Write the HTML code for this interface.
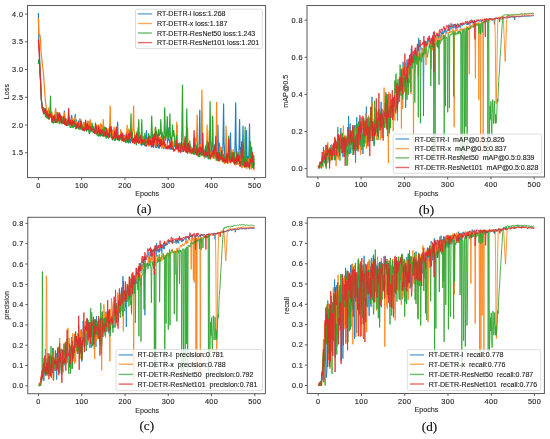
<!DOCTYPE html>
<html><head><meta charset="utf-8"><style>
html,body{margin:0;padding:0;background:#fff;}
body{width:550px;height:439px;overflow:hidden;}
svg{display:block;will-change:transform;}
.tk{font-family:"Liberation Sans", sans-serif;font-size:7.3px;letter-spacing:0.35px;fill:#2a2a2a;stroke:#2a2a2a;stroke-width:0.15px;}
.lb{font-family:"Liberation Sans", sans-serif;font-size:7.2px;fill:#2a2a2a;stroke:#2a2a2a;stroke-width:0.12px;}
.lg{font-family:"Liberation Sans", sans-serif;font-size:7.05px;fill:#222;stroke:#222;stroke-width:0.12px;}
.cap{font-family:"Liberation Serif", serif;font-size:13.2px;fill:#111;stroke:#111;stroke-width:0.15px;}
</style></head><body>
<svg width="550" height="439" viewBox="0 0 550 439">
<rect width="550" height="439" fill="#fff"/>
<line x1="38.40" y1="177.6" x2="38.40" y2="180.00" stroke="#5a5a5a" stroke-width="1"/>
<text x="38.40" y="187.60" text-anchor="middle" class="tk">0</text>
<line x1="81.66" y1="177.6" x2="81.66" y2="180.00" stroke="#5a5a5a" stroke-width="1"/>
<text x="81.66" y="187.60" text-anchor="middle" class="tk">100</text>
<line x1="124.92" y1="177.6" x2="124.92" y2="180.00" stroke="#5a5a5a" stroke-width="1"/>
<text x="124.92" y="187.60" text-anchor="middle" class="tk">200</text>
<line x1="168.18" y1="177.6" x2="168.18" y2="180.00" stroke="#5a5a5a" stroke-width="1"/>
<text x="168.18" y="187.60" text-anchor="middle" class="tk">300</text>
<line x1="211.44" y1="177.6" x2="211.44" y2="180.00" stroke="#5a5a5a" stroke-width="1"/>
<text x="211.44" y="187.60" text-anchor="middle" class="tk">400</text>
<line x1="254.70" y1="177.6" x2="254.70" y2="180.00" stroke="#5a5a5a" stroke-width="1"/>
<text x="254.70" y="187.60" text-anchor="middle" class="tk">500</text>
<line x1="25.10" y1="152.74" x2="27.5" y2="152.74" stroke="#5a5a5a" stroke-width="1"/>
<text x="23.30" y="155.24" text-anchor="end" class="tk">1.5</text>
<line x1="25.10" y1="125.00" x2="27.5" y2="125.00" stroke="#5a5a5a" stroke-width="1"/>
<text x="23.30" y="127.50" text-anchor="end" class="tk">2.0</text>
<line x1="25.10" y1="97.26" x2="27.5" y2="97.26" stroke="#5a5a5a" stroke-width="1"/>
<text x="23.30" y="99.76" text-anchor="end" class="tk">2.5</text>
<line x1="25.10" y1="69.52" x2="27.5" y2="69.52" stroke="#5a5a5a" stroke-width="1"/>
<text x="23.30" y="72.02" text-anchor="end" class="tk">3.0</text>
<line x1="25.10" y1="41.78" x2="27.5" y2="41.78" stroke="#5a5a5a" stroke-width="1"/>
<text x="23.30" y="44.28" text-anchor="end" class="tk">3.5</text>
<line x1="25.10" y1="14.04" x2="27.5" y2="14.04" stroke="#5a5a5a" stroke-width="1"/>
<text x="23.30" y="16.54" text-anchor="end" class="tk">4.0</text>
<text x="147.15" y="196.40" text-anchor="middle" class="lb">Epochs</text>
<text x="8.90" y="91.55" text-anchor="middle" class="lb" transform="rotate(-90 8.90 91.55)">Loss</text>
<polyline points="38.4,12.9 38.8,41.8 39.3,47.3 39.7,61.2 40.1,72.3 40.6,80.6 41.0,91.7 41.4,100.0 41.9,103.9 42.3,106.7 42.7,109.6 43.2,109.2 43.6,107.6 44.0,112.9 44.5,112.9 44.9,108.9 45.3,114.4 45.8,110.2 46.2,114.7 46.6,112.9 47.1,116.9 47.5,115.2 47.9,117.9 48.3,118.7 48.8,114.0 49.2,117.3 49.6,117.8 50.1,114.7 50.5,114.5 50.9,117.5 51.4,114.6 51.8,115.2 52.2,117.2 52.7,120.4 53.1,118.7 53.5,117.0 54.0,121.0 54.4,121.0 54.8,119.7 55.3,115.5 55.7,116.2 56.1,112.1 56.6,115.6 57.0,116.3 57.4,119.0 57.9,115.2 58.3,116.4 58.7,118.5 59.2,119.5 59.6,119.4 60.0,116.9 60.5,114.8 60.9,121.1 61.3,122.7 61.8,122.9 62.2,122.7 62.6,119.9 63.1,122.3 63.5,123.5 63.9,118.9 64.4,111.1 64.8,120.6 65.2,120.3 65.7,124.8 66.1,124.6 66.5,123.7 67.0,120.3 67.4,122.6 67.8,125.0 68.2,123.9 68.7,124.3 69.1,121.0 69.5,121.9 70.0,120.9 70.4,124.8 70.8,124.7 71.3,117.4 71.7,115.4 72.1,120.8 72.6,122.7 73.0,121.8 73.4,123.6 73.9,126.5 74.3,122.7 74.7,125.8 75.2,114.4 75.6,119.4 76.0,122.9 76.5,120.2 76.9,127.2 77.3,125.4 77.8,122.8 78.2,125.4 78.6,121.1 79.1,123.4 79.5,119.5 79.9,126.2 80.4,128.2 80.8,119.5 81.2,124.0 81.7,124.6 82.1,128.1 82.5,130.0 83.0,128.3 83.4,122.3 83.8,127.2 84.3,128.0 84.7,128.5 85.1,129.6 85.6,129.5 86.0,129.1 86.4,124.9 86.9,129.0 87.3,124.6 87.7,128.2 88.1,129.6 88.6,126.6 89.0,121.2 89.4,124.7 89.9,131.8 90.3,130.9 90.7,130.5 91.2,131.0 91.6,127.0 92.0,129.3 92.5,131.0 92.9,129.0 93.3,132.2 93.8,126.6 94.2,132.3 94.6,129.2 95.1,132.0 95.5,132.8 95.9,132.8 96.4,126.0 96.8,130.0 97.2,127.3 97.7,130.2 98.1,125.0 98.5,128.9 99.0,128.5 99.4,130.6 99.8,130.9 100.3,131.5 100.7,134.5 101.1,135.7 101.6,124.9 102.0,130.2 102.4,135.8 102.9,134.8 103.3,136.0 103.7,135.3 104.2,130.2 104.6,132.4 105.0,130.7 105.5,127.7 105.9,131.9 106.3,130.9 106.8,131.5 107.2,130.0 107.6,135.5 108.0,135.2 108.5,135.5 108.9,134.5 109.3,133.2 109.8,133.4 110.2,134.6 110.6,135.2 111.1,134.2 111.5,128.0 111.9,134.3 112.4,136.8 112.8,135.7 113.2,129.8 113.7,134.8 114.1,136.7 114.5,131.6 115.0,133.9 115.4,136.1 115.8,138.0 116.3,134.2 116.7,134.6 117.1,132.4 117.6,122.2 118.0,134.5 118.4,140.3 118.9,137.1 119.3,139.1 119.7,136.2 120.2,135.1 120.6,137.2 121.0,135.2 121.5,132.2 121.9,138.7 122.3,139.9 122.8,139.4 123.2,138.5 123.6,135.9 124.1,135.0 124.5,138.1 124.9,140.1 125.4,140.8 125.8,142.1 126.2,139.8 126.7,139.5 127.1,136.4 127.5,141.0 127.9,139.6 128.4,141.4 128.8,142.9 129.2,139.7 129.7,135.5 130.1,141.5 130.5,142.9 131.0,138.5 131.4,141.0 131.8,136.5 132.3,140.2 132.7,138.4 133.1,140.1 133.6,138.5 134.0,141.9 134.4,139.6 134.9,140.3 135.3,140.1 135.7,142.7 136.2,138.9 136.6,137.6 137.0,135.9 137.5,138.6 137.9,142.2 138.3,142.5 138.8,139.3 139.2,142.4 139.6,142.0 140.1,139.3 140.5,140.5 140.9,144.4 141.4,145.3 141.8,144.7 142.2,143.8 142.7,144.2 143.1,141.0 143.5,142.4 144.0,137.4 144.4,144.3 144.8,145.6 145.3,142.6 145.7,143.6 146.1,139.5 146.5,130.5 147.0,141.3 147.4,143.4 147.8,140.8 148.3,142.8 148.7,145.2 149.1,136.7 149.6,143.7 150.0,140.5 150.4,144.8 150.9,143.9 151.3,146.9 151.7,146.1 152.2,141.6 152.6,145.6 153.0,146.8 153.5,146.9 153.9,139.2 154.3,134.1 154.8,137.1 155.2,145.2 155.6,147.3 156.1,143.4 156.5,147.1 156.9,147.4 157.4,146.3 157.8,139.9 158.2,143.4 158.7,147.6 159.1,148.4 159.5,147.3 160.0,144.8 160.4,138.2 160.8,146.1 161.3,138.5 161.7,143.5 162.1,147.2 162.6,145.2 163.0,142.5 163.4,147.6 163.9,148.7 164.3,145.4 164.7,144.0 165.2,144.4 165.6,148.6 166.0,147.5 166.4,148.6 166.9,148.2 167.3,146.7 167.7,140.4 168.2,127.8 168.6,137.8 169.0,140.2 169.5,140.2 169.9,148.8 170.3,146.3 170.8,149.1 171.2,143.3 171.6,148.9 172.1,144.3 172.5,144.6 172.9,145.3 173.4,148.9 173.8,146.1 174.2,141.7 174.7,145.5 175.1,146.5 175.5,145.8 176.0,149.0 176.4,139.9 176.8,125.0 177.3,142.8 177.7,147.4 178.1,146.9 178.6,148.3 179.0,147.7 179.4,145.7 179.9,147.9 180.3,149.0 180.7,144.4 181.2,150.5 181.6,151.1 182.0,151.7 182.5,147.5 182.9,148.8 183.3,150.9 183.8,143.1 184.2,147.9 184.6,149.1 185.1,150.0 185.5,148.3 185.9,146.5 186.3,145.1 186.8,147.4 187.2,146.2 187.6,151.7 188.1,149.1 188.5,151.5 188.9,151.0 189.4,147.1 189.8,144.7 190.2,146.2 190.7,148.6 191.1,150.3 191.5,152.0 192.0,152.0 192.4,153.1 192.8,153.5 193.3,148.6 193.7,143.9 194.1,141.9 194.6,152.9 195.0,154.0 195.4,147.4 195.9,148.2 196.3,149.7 196.7,150.1 197.2,146.2 197.6,151.2 198.0,152.0 198.5,152.6 198.9,154.1 199.3,135.6 199.8,110.0 200.2,140.5 200.6,154.6 201.1,154.8 201.5,153.5 201.9,146.0 202.4,149.4 202.8,153.3 203.2,154.7 203.7,152.3 204.1,150.0 204.5,153.6 205.0,152.8 205.4,153.2 205.8,149.9 206.2,156.1 206.7,157.0 207.1,156.8 207.5,150.5 208.0,150.6 208.4,157.0 208.8,155.0 209.3,158.0 209.7,156.0 210.1,154.9 210.6,157.8 211.0,154.0 211.4,150.7 211.9,143.1 212.3,153.2 212.7,153.3 213.2,157.4 213.6,154.9 214.0,150.4 214.5,144.8 214.9,155.4 215.3,153.1 215.8,153.7 216.2,157.6 216.6,150.4 217.1,157.4 217.5,144.6 217.9,125.0 218.4,148.4 218.8,159.3 219.2,143.1 219.7,150.7 220.1,153.9 220.5,154.0 221.0,152.8 221.4,157.8 221.8,150.8 222.3,155.0 222.7,155.7 223.1,135.7 223.6,103.9 224.0,141.7 224.4,148.3 224.9,158.3 225.3,157.0 225.7,157.7 226.1,159.3 226.6,154.1 227.0,156.4 227.4,158.2 227.9,155.9 228.3,160.5 228.7,157.5 229.2,158.1 229.6,155.1 230.0,149.4 230.5,132.8 230.9,152.6 231.3,159.3 231.8,155.2 232.2,160.7 232.6,159.8 233.1,158.9 233.5,161.5 233.9,162.2 234.4,155.6 234.8,158.8 235.2,136.5 235.7,102.8 236.1,142.9 236.5,152.9 237.0,159.1 237.4,158.4 237.8,161.5 238.3,155.0 238.7,161.9 239.1,144.5 239.6,119.5 240.0,149.3 240.4,160.6 240.9,147.6 241.3,152.9 241.7,160.7 242.2,163.2 242.6,148.0 243.0,126.1 243.5,152.2 243.9,153.5 244.3,154.6 244.8,154.7 245.2,152.5 245.6,162.6 246.0,150.5 246.5,130.5 246.9,154.3 247.3,162.8 247.8,156.7 248.2,158.4 248.6,162.0 249.1,147.9 249.5,123.9 249.9,152.5 250.4,158.4 250.8,162.0 251.2,158.6 251.7,147.2 252.1,161.0 252.5,167.1 253.0,165.0 253.4,162.8 253.8,165.9 254.3,166.6" stroke="#1f7fc0" stroke-width="1.2" fill="none" stroke-linejoin="round"/>
<polyline points="38.4,17.9 38.8,34.6 39.3,34.0 39.7,36.2 40.1,35.1 40.6,41.8 41.0,51.2 41.4,55.7 41.9,59.5 42.3,64.0 42.7,67.9 43.2,70.6 43.6,75.6 44.0,81.7 44.5,88.9 44.9,94.5 45.3,100.0 45.8,103.9 46.2,107.2 46.6,110.0 47.1,114.2 47.5,114.7 47.9,111.2 48.3,111.6 48.8,107.8 49.2,114.7 49.6,117.6 50.1,111.3 50.5,116.8 50.9,111.5 51.4,115.1 51.8,111.8 52.2,113.6 52.7,118.8 53.1,118.2 53.5,118.2 54.0,119.5 54.4,119.8 54.8,119.6 55.3,110.6 55.7,108.4 56.1,117.0 56.6,118.4 57.0,119.1 57.4,117.2 57.9,112.4 58.3,117.0 58.7,119.1 59.2,117.2 59.6,120.9 60.0,118.8 60.5,119.5 60.9,117.7 61.3,118.7 61.8,117.0 62.2,119.2 62.6,117.5 63.1,116.5 63.5,118.6 63.9,118.7 64.4,112.8 64.8,116.4 65.2,120.6 65.7,123.2 66.1,119.3 66.5,120.5 67.0,121.8 67.4,120.3 67.8,123.5 68.2,122.2 68.7,115.9 69.1,121.2 69.5,118.3 70.0,122.3 70.4,123.5 70.8,125.4 71.3,120.0 71.7,121.9 72.1,118.2 72.6,124.6 73.0,120.7 73.4,120.4 73.9,119.0 74.3,121.9 74.7,122.2 75.2,116.7 75.6,120.3 76.0,124.7 76.5,121.3 76.9,124.3 77.3,122.9 77.8,126.2 78.2,123.3 78.6,126.2 79.1,125.3 79.5,124.8 79.9,118.6 80.4,124.8 80.8,122.1 81.2,127.0 81.7,127.2 82.1,127.3 82.5,125.2 83.0,126.4 83.4,125.1 83.8,122.5 84.3,124.6 84.7,127.7 85.1,122.4 85.6,127.7 86.0,127.2 86.4,127.0 86.9,127.1 87.3,121.2 87.7,123.3 88.1,121.9 88.6,125.4 89.0,128.1 89.4,128.9 89.9,125.4 90.3,119.5 90.7,126.9 91.2,126.6 91.6,129.1 92.0,125.5 92.5,130.0 92.9,130.2 93.3,131.7 93.8,129.4 94.2,130.4 94.6,131.3 95.1,130.1 95.5,132.5 95.9,131.0 96.4,125.1 96.8,126.6 97.2,129.6 97.7,127.6 98.1,131.2 98.5,125.2 99.0,124.9 99.4,127.9 99.8,132.0 100.3,132.8 100.7,123.6 101.1,131.3 101.6,126.0 102.0,130.6 102.4,132.9 102.9,128.1 103.3,119.5 103.7,130.0 104.2,133.6 104.6,129.1 105.0,132.5 105.5,130.1 105.9,135.0 106.3,132.1 106.8,128.7 107.2,132.2 107.6,135.4 108.0,134.9 108.5,128.9 108.9,135.5 109.3,136.1 109.8,123.3 110.2,106.1 110.6,126.6 111.1,137.2 111.5,137.3 111.9,137.4 112.4,135.2 112.8,130.6 113.2,132.8 113.7,136.5 114.1,127.1 114.5,129.9 115.0,136.1 115.4,129.3 115.8,135.8 116.3,132.9 116.7,134.1 117.1,135.4 117.6,138.4 118.0,136.9 118.4,138.4 118.9,135.9 119.3,135.7 119.7,138.2 120.2,138.1 120.6,129.7 121.0,135.7 121.5,139.5 121.9,137.2 122.3,136.8 122.8,137.4 123.2,136.6 123.6,137.2 124.1,137.5 124.5,139.1 124.9,136.0 125.4,139.6 125.8,135.7 126.2,139.3 126.7,134.1 127.1,125.0 127.5,136.0 127.9,139.9 128.4,132.3 128.8,128.9 129.2,132.6 129.7,134.2 130.1,138.0 130.5,134.6 131.0,137.8 131.4,135.7 131.8,141.1 132.3,139.1 132.7,130.9 133.1,126.4 133.6,106.1 134.0,130.3 134.4,131.1 134.9,139.0 135.3,139.6 135.7,135.8 136.2,137.0 136.6,142.3 137.0,139.9 137.5,136.7 137.9,127.8 138.3,138.5 138.8,140.5 139.2,142.4 139.6,132.6 140.1,140.2 140.5,143.7 140.9,143.6 141.4,138.9 141.8,136.9 142.2,140.9 142.7,137.5 143.1,140.2 143.5,136.1 144.0,140.6 144.4,141.6 144.8,137.7 145.3,139.2 145.7,141.7 146.1,142.8 146.5,139.4 147.0,140.5 147.4,144.5 147.8,140.6 148.3,141.5 148.7,145.4 149.1,146.1 149.6,145.3 150.0,145.1 150.4,142.6 150.9,137.3 151.3,141.8 151.7,139.1 152.2,131.4 152.6,135.7 153.0,144.5 153.5,143.8 153.9,142.9 154.3,144.3 154.8,138.6 155.2,127.8 155.6,140.8 156.1,144.8 156.5,146.5 156.9,142.8 157.4,140.8 157.8,144.2 158.2,143.1 158.7,137.4 159.1,141.0 159.5,139.5 160.0,136.6 160.4,138.7 160.8,144.3 161.3,146.4 161.7,148.3 162.1,147.0 162.6,140.6 163.0,137.4 163.4,147.0 163.9,147.7 164.3,147.1 164.7,146.0 165.2,146.7 165.6,148.4 166.0,146.8 166.4,148.3 166.9,146.3 167.3,143.6 167.7,146.9 168.2,147.6 168.6,146.5 169.0,147.0 169.5,147.4 169.9,142.8 170.3,145.6 170.8,146.4 171.2,145.2 171.6,145.0 172.1,145.4 172.5,140.8 172.9,147.3 173.4,144.7 173.8,144.8 174.2,143.6 174.7,144.5 175.1,142.9 175.5,142.1 176.0,143.0 176.4,138.5 176.8,122.2 177.3,141.7 177.7,148.7 178.1,150.7 178.6,152.1 179.0,151.1 179.4,143.3 179.9,147.1 180.3,146.9 180.7,144.8 181.2,145.8 181.6,149.9 182.0,144.5 182.5,148.1 182.9,149.5 183.3,148.5 183.8,148.7 184.2,147.6 184.6,147.6 185.1,140.5 185.5,147.5 185.9,147.5 186.3,149.9 186.8,152.2 187.2,142.3 187.6,127.8 188.1,145.1 188.5,150.2 188.9,150.6 189.4,153.1 189.8,151.7 190.2,150.5 190.7,146.1 191.1,151.2 191.5,147.1 192.0,153.1 192.4,153.4 192.8,152.2 193.3,150.8 193.7,151.4 194.1,138.3 194.6,138.0 195.0,140.0 195.4,149.8 195.9,138.2 196.3,142.3 196.7,137.9 197.2,115.0 197.6,142.3 198.0,148.8 198.5,154.4 198.9,155.7 199.3,155.3 199.8,155.1 200.2,144.3 200.6,148.8 201.1,154.3 201.5,127.4 201.9,90.0 202.4,134.5 202.8,149.0 203.2,155.1 203.7,156.0 204.1,154.9 204.5,157.8 205.0,157.9 205.4,154.7 205.8,150.0 206.2,145.2 206.7,143.9 207.1,125.0 207.5,147.7 208.0,158.5 208.4,155.8 208.8,146.8 209.3,130.5 209.7,150.0 210.1,157.1 210.6,158.1 211.0,150.0 211.4,156.2 211.9,156.1 212.3,153.8 212.7,151.8 213.2,158.4 213.6,155.2 214.0,155.5 214.5,156.7 214.9,158.4 215.3,149.3 215.8,154.7 216.2,135.1 216.6,102.3 217.1,141.3 217.5,160.8 217.9,161.0 218.4,161.1 218.8,159.3 219.2,157.9 219.7,161.1 220.1,146.1 220.5,154.4 221.0,157.6 221.4,147.3 221.8,150.4 222.3,156.5 222.7,156.0 223.1,156.3 223.6,161.9 224.0,162.6 224.4,163.4 224.9,160.7 225.3,163.2 225.7,147.1 226.1,126.1 226.6,151.1 227.0,159.6 227.4,163.6 227.9,162.8 228.3,154.5 228.7,163.0 229.2,161.0 229.6,157.7 230.0,159.5 230.5,161.3 230.9,157.9 231.3,149.4 231.8,159.4 232.2,160.9 232.6,154.2 233.1,149.4 233.5,157.4 233.9,162.7 234.4,160.5 234.8,164.6 235.2,164.6 235.7,164.8 236.1,159.8 236.5,164.5 237.0,164.3 237.4,160.6 237.8,163.4 238.3,164.1 238.7,163.6 239.1,164.3 239.6,149.8 240.0,160.0 240.4,163.3 240.9,158.9 241.3,159.8 241.7,167.1 242.2,167.8 242.6,165.7 243.0,159.6 243.5,157.1 243.9,162.2 244.3,162.3 244.8,167.1 245.2,164.2 245.6,166.9 246.0,166.0 246.5,167.7 246.9,168.5 247.3,165.8 247.8,160.3 248.2,159.1 248.6,159.2 249.1,167.6 249.5,160.4 249.9,163.2 250.4,165.3 250.8,166.6 251.2,169.3 251.7,162.5 252.1,160.2 252.5,166.8 253.0,167.7 253.4,164.7 253.8,168.9 254.3,170.5" stroke="#ff8214" stroke-width="1.2" fill="none" stroke-linejoin="round"/>
<polyline points="38.4,64.0 38.8,59.5 39.3,62.9 39.7,66.7 40.1,75.1 40.6,83.4 41.0,92.8 41.4,100.0 41.9,105.0 42.3,108.4 42.7,107.7 43.2,109.2 43.6,112.6 44.0,112.7 44.5,112.2 44.9,108.9 45.3,116.4 45.8,116.7 46.2,116.6 46.6,117.7 47.1,114.9 47.5,117.0 47.9,118.5 48.3,114.1 48.8,118.9 49.2,118.2 49.6,112.5 50.1,110.3 50.5,96.2 50.9,113.7 51.4,116.0 51.8,121.9 52.2,121.3 52.7,122.7 53.1,120.8 53.5,123.2 54.0,122.3 54.4,122.2 54.8,121.2 55.3,122.5 55.7,119.2 56.1,119.4 56.6,121.5 57.0,122.9 57.4,117.0 57.9,121.1 58.3,120.9 58.7,117.8 59.2,123.8 59.6,122.5 60.0,121.6 60.5,118.4 60.9,122.8 61.3,119.6 61.8,123.6 62.2,122.7 62.6,123.6 63.1,117.1 63.5,119.3 63.9,122.5 64.4,122.1 64.8,123.3 65.2,123.9 65.7,118.3 66.1,125.1 66.5,125.3 67.0,125.2 67.4,122.5 67.8,120.7 68.2,125.3 68.7,122.9 69.1,117.0 69.5,122.5 70.0,127.2 70.4,127.3 70.8,127.3 71.3,126.7 71.7,127.0 72.1,121.4 72.6,126.8 73.0,127.7 73.4,127.0 73.9,122.9 74.3,126.1 74.7,120.6 75.2,126.4 75.6,128.9 76.0,124.1 76.5,126.1 76.9,128.0 77.3,127.4 77.8,123.0 78.2,127.8 78.6,128.4 79.1,129.6 79.5,126.6 79.9,127.3 80.4,127.4 80.8,129.5 81.2,122.8 81.7,124.7 82.1,127.9 82.5,126.7 83.0,129.5 83.4,127.2 83.8,130.6 84.3,130.9 84.7,130.2 85.1,127.6 85.6,128.8 86.0,127.6 86.4,131.1 86.9,126.1 87.3,130.0 87.7,126.1 88.1,127.0 88.6,128.6 89.0,132.8 89.4,133.7 89.9,133.2 90.3,128.2 90.7,127.3 91.2,129.8 91.6,128.7 92.0,122.9 92.5,125.9 92.9,130.4 93.3,132.9 93.8,129.6 94.2,129.3 94.6,133.0 95.1,131.4 95.5,130.2 95.9,133.6 96.4,132.1 96.8,134.9 97.2,135.0 97.7,135.3 98.1,136.2 98.5,135.3 99.0,133.1 99.4,131.9 99.8,136.0 100.3,136.3 100.7,135.0 101.1,131.9 101.6,131.3 102.0,131.1 102.4,129.4 102.9,136.0 103.3,133.9 103.7,130.6 104.2,126.6 104.6,131.1 105.0,136.1 105.5,133.5 105.9,137.4 106.3,138.3 106.8,133.3 107.2,131.4 107.6,136.6 108.0,137.9 108.5,138.2 108.9,133.8 109.3,134.8 109.8,135.4 110.2,135.6 110.6,135.0 111.1,137.3 111.5,136.5 111.9,137.4 112.4,140.0 112.8,138.4 113.2,136.2 113.7,137.2 114.1,139.9 114.5,138.9 115.0,140.9 115.4,139.8 115.8,138.3 116.3,139.2 116.7,138.5 117.1,133.4 117.6,139.6 118.0,139.6 118.4,137.5 118.9,138.5 119.3,140.7 119.7,139.7 120.2,139.2 120.6,134.6 121.0,139.5 121.5,139.3 121.9,134.3 122.3,138.0 122.8,136.3 123.2,141.1 123.6,140.5 124.1,139.7 124.5,138.6 124.9,139.3 125.4,142.0 125.8,142.7 126.2,137.1 126.7,141.8 127.1,137.7 127.5,141.4 127.9,142.2 128.4,142.8 128.8,138.5 129.2,134.2 129.7,132.2 130.1,129.9 130.5,131.0 131.0,113.9 131.4,134.3 131.8,140.1 132.3,132.0 132.7,137.5 133.1,141.1 133.6,138.6 134.0,140.4 134.4,138.9 134.9,143.9 135.3,139.6 135.7,140.7 136.2,141.5 136.6,145.0 137.0,131.6 137.5,137.9 137.9,140.5 138.3,134.3 138.8,119.5 139.2,137.1 139.6,140.7 140.1,137.7 140.5,136.5 140.9,135.8 141.4,134.6 141.8,119.5 142.2,137.5 142.7,144.7 143.1,143.3 143.5,144.3 144.0,139.6 144.4,144.8 144.8,133.3 145.3,135.8 145.7,143.6 146.1,142.5 146.5,142.4 147.0,142.1 147.4,138.4 147.8,140.5 148.3,138.5 148.7,133.5 149.1,135.5 149.6,139.5 150.0,138.5 150.4,136.3 150.9,138.7 151.3,130.0 151.7,116.1 152.2,132.2 152.6,137.0 153.0,138.1 153.5,139.8 153.9,138.6 154.3,133.8 154.8,133.8 155.2,135.4 155.6,127.1 156.1,131.2 156.5,132.6 156.9,137.1 157.4,138.8 157.8,138.9 158.2,132.3 158.7,129.3 159.1,135.3 159.5,135.5 160.0,133.9 160.4,131.3 160.8,119.5 161.3,133.6 161.7,137.3 162.1,132.2 162.6,135.6 163.0,139.8 163.4,140.2 163.9,137.3 164.3,126.0 164.7,107.8 165.2,129.6 165.6,140.4 166.0,138.1 166.4,136.2 166.9,126.0 167.3,116.7 167.7,132.5 168.2,136.8 168.6,133.3 169.0,138.2 169.5,129.6 169.9,113.9 170.3,133.2 170.8,140.2 171.2,137.6 171.6,139.9 172.1,135.8 172.5,125.0 172.9,136.2 173.4,135.6 173.8,130.6 174.2,135.2 174.7,143.4 175.1,146.2 175.5,145.1 176.0,146.3 176.4,135.7 176.8,143.8 177.3,147.0 177.7,143.3 178.1,145.8 178.6,143.6 179.0,148.2 179.4,147.2 179.9,142.9 180.3,145.1 180.7,144.9 181.2,148.8 181.6,143.6 182.0,122.1 182.5,85.1 182.9,129.4 183.3,150.0 183.8,147.2 184.2,144.7 184.6,148.6 185.1,138.9 185.5,151.8 185.9,148.1 186.3,134.1 186.8,108.9 187.2,138.8 187.6,153.5 188.1,151.7 188.5,149.6 188.9,145.2 189.4,151.9 189.8,140.9 190.2,147.4 190.7,151.6 191.1,150.2 191.5,150.6 192.0,148.5 192.4,152.8 192.8,153.2 193.3,148.5 193.7,154.1 194.1,152.8 194.6,154.4 195.0,144.2 195.4,153.9 195.9,151.5 196.3,153.1 196.7,146.0 197.2,143.4 197.6,152.6 198.0,156.2 198.5,156.3 198.9,153.3 199.3,156.3 199.8,156.6 200.2,154.0 200.6,151.6 201.1,153.0 201.5,152.6 201.9,154.9 202.4,152.6 202.8,154.8 203.2,154.0 203.7,155.8 204.1,154.0 204.5,153.1 205.0,157.2 205.4,146.2 205.8,155.0 206.2,154.9 206.7,148.4 207.1,141.3 207.5,147.0 208.0,153.2 208.4,158.9 208.8,158.2 209.3,149.4 209.7,133.9 210.1,101.7 210.6,139.9 211.0,152.1 211.4,147.2 211.9,147.8 212.3,140.7 212.7,116.1 213.2,145.4 213.6,157.6 214.0,155.0 214.5,152.2 214.9,150.5 215.3,155.3 215.8,154.9 216.2,160.4 216.6,157.7 217.1,159.9 217.5,157.3 217.9,152.5 218.4,152.2 218.8,160.3 219.2,160.2 219.7,155.0 220.1,152.7 220.5,157.0 221.0,159.7 221.4,157.6 221.8,157.4 222.3,161.8 222.7,158.7 223.1,155.1 223.6,154.5 224.0,161.5 224.4,158.2 224.9,156.9 225.3,156.6 225.7,160.3 226.1,159.1 226.6,158.5 227.0,159.1 227.4,162.0 227.9,154.1 228.3,151.5 228.7,136.1 229.2,145.4 229.6,153.7 230.0,151.6 230.5,162.2 230.9,163.0 231.3,159.5 231.8,152.4 232.2,156.7 232.6,161.4 233.1,156.1 233.5,159.4 233.9,162.3 234.4,152.6 234.8,162.3 235.2,162.9 235.7,163.3 236.1,158.0 236.5,156.4 237.0,163.8 237.4,160.6 237.8,156.6 238.3,158.4 238.7,152.9 239.1,159.6 239.6,162.0 240.0,164.0 240.4,162.7 240.9,161.8 241.3,162.5 241.7,161.9 242.2,165.7 242.6,165.5 243.0,151.4 243.5,157.5 243.9,165.2 244.3,166.9 244.8,149.6 245.2,127.2 245.6,154.0 246.0,163.0 246.5,166.6 246.9,158.3 247.3,164.5 247.8,161.4 248.2,164.5 248.6,164.8 249.1,166.2 249.5,168.8 249.9,156.9 250.4,141.6 250.8,159.9 251.2,163.7 251.7,159.0 252.1,166.4 252.5,167.5 253.0,167.1 253.4,163.6 253.8,155.5 254.3,165.3" stroke="#2ca32c" stroke-width="1.2" fill="none" stroke-linejoin="round"/>
<polyline points="38.4,39.6 38.8,47.3 39.3,55.7 39.7,64.0 40.1,72.3 40.6,80.6 41.0,91.7 41.4,100.0 41.9,105.0 42.3,108.4 42.7,109.3 43.2,112.1 43.6,113.8 44.0,111.3 44.5,111.7 44.9,110.9 45.3,108.7 45.8,114.5 46.2,113.4 46.6,115.2 47.1,111.1 47.5,116.2 47.9,116.3 48.3,116.9 48.8,114.1 49.2,119.1 49.6,116.2 50.1,113.6 50.5,114.4 50.9,115.0 51.4,116.7 51.8,119.8 52.2,121.8 52.7,120.3 53.1,115.9 53.5,119.6 54.0,119.2 54.4,116.1 54.8,115.2 55.3,120.4 55.7,122.6 56.1,121.2 56.6,121.3 57.0,122.1 57.4,117.2 57.9,112.9 58.3,115.9 58.7,120.3 59.2,117.1 59.6,112.8 60.0,116.5 60.5,118.3 60.9,122.3 61.3,116.1 61.8,122.3 62.2,122.3 62.6,122.6 63.1,122.4 63.5,122.4 63.9,116.4 64.4,123.0 64.8,124.5 65.2,122.1 65.7,119.0 66.1,123.6 66.5,125.7 67.0,125.2 67.4,124.3 67.8,123.7 68.2,117.5 68.7,108.4 69.1,120.5 69.5,124.1 70.0,124.3 70.4,121.2 70.8,120.0 71.3,125.0 71.7,124.4 72.1,125.2 72.6,120.6 73.0,123.4 73.4,123.5 73.9,121.7 74.3,123.5 74.7,123.7 75.2,124.1 75.6,124.6 76.0,124.3 76.5,128.2 76.9,128.2 77.3,125.0 77.8,124.4 78.2,122.9 78.6,124.1 79.1,127.9 79.5,126.4 79.9,127.9 80.4,126.1 80.8,121.6 81.2,121.1 81.7,126.3 82.1,129.8 82.5,129.6 83.0,129.9 83.4,128.2 83.8,129.8 84.3,130.6 84.7,128.4 85.1,130.0 85.6,120.0 86.0,125.9 86.4,129.2 86.9,125.1 87.3,123.7 87.7,129.9 88.1,129.0 88.6,129.0 89.0,125.4 89.4,128.1 89.9,126.6 90.3,126.9 90.7,128.4 91.2,130.7 91.6,129.9 92.0,129.5 92.5,128.9 92.9,129.9 93.3,130.9 93.8,130.9 94.2,131.1 94.6,133.4 95.1,132.6 95.5,123.0 95.9,127.5 96.4,127.0 96.8,130.0 97.2,134.0 97.7,133.0 98.1,130.4 98.5,126.7 99.0,131.0 99.4,135.1 99.8,133.0 100.3,129.7 100.7,132.7 101.1,134.2 101.6,131.2 102.0,130.1 102.4,130.6 102.9,132.9 103.3,134.1 103.7,136.2 104.2,134.7 104.6,135.6 105.0,132.0 105.5,135.7 105.9,133.5 106.3,128.0 106.8,133.5 107.2,135.2 107.6,134.2 108.0,137.2 108.5,137.2 108.9,133.1 109.3,137.1 109.8,126.5 110.2,131.6 110.6,131.7 111.1,126.5 111.5,133.7 111.9,135.6 112.4,138.9 112.8,138.8 113.2,138.7 113.7,137.2 114.1,136.9 114.5,131.3 115.0,134.6 115.4,138.6 115.8,137.3 116.3,127.2 116.7,134.6 117.1,137.6 117.6,139.0 118.0,137.2 118.4,135.4 118.9,139.5 119.3,138.1 119.7,136.3 120.2,136.0 120.6,134.5 121.0,137.5 121.5,134.3 121.9,140.8 122.3,139.8 122.8,133.1 123.2,140.8 123.6,139.9 124.1,141.5 124.5,139.1 124.9,139.1 125.4,138.8 125.8,139.0 126.2,133.9 126.7,138.5 127.1,137.0 127.5,141.7 127.9,137.2 128.4,133.8 128.8,134.8 129.2,139.6 129.7,138.8 130.1,133.4 130.5,135.4 131.0,131.8 131.4,137.0 131.8,139.0 132.3,141.0 132.7,143.0 133.1,141.0 133.6,138.3 134.0,141.1 134.4,143.5 134.9,135.0 135.3,140.0 135.7,141.6 136.2,139.0 136.6,133.3 137.0,142.2 137.5,141.8 137.9,137.6 138.3,142.7 138.8,143.3 139.2,141.0 139.6,142.6 140.1,135.9 140.5,138.0 140.9,136.2 141.4,143.3 141.8,143.4 142.2,139.8 142.7,139.7 143.1,141.6 143.5,142.7 144.0,140.1 144.4,139.9 144.8,140.6 145.3,143.7 145.7,145.7 146.1,146.3 146.5,145.6 147.0,144.7 147.4,140.8 147.8,142.1 148.3,137.1 148.7,144.6 149.1,143.3 149.6,141.4 150.0,144.5 150.4,141.1 150.9,140.0 151.3,143.2 151.7,146.7 152.2,141.6 152.6,137.6 153.0,143.5 153.5,147.2 153.9,134.6 154.3,142.7 154.8,141.1 155.2,135.4 155.6,131.7 156.1,139.7 156.5,138.8 156.9,142.3 157.4,146.4 157.8,134.5 158.2,138.9 158.7,141.3 159.1,139.0 159.5,143.3 160.0,146.4 160.4,139.6 160.8,145.3 161.3,145.1 161.7,140.4 162.1,144.5 162.6,144.5 163.0,144.7 163.4,142.6 163.9,136.4 164.3,144.3 164.7,142.4 165.2,146.4 165.6,146.8 166.0,146.8 166.4,148.5 166.9,146.6 167.3,148.9 167.7,147.4 168.2,145.7 168.6,147.2 169.0,149.2 169.5,145.1 169.9,147.5 170.3,146.1 170.8,141.7 171.2,146.1 171.6,138.0 172.1,147.8 172.5,149.2 172.9,149.3 173.4,148.3 173.8,151.2 174.2,151.0 174.7,149.6 175.1,150.2 175.5,148.4 176.0,144.2 176.4,140.2 176.8,149.1 177.3,145.0 177.7,148.5 178.1,144.4 178.6,150.8 179.0,149.2 179.4,150.6 179.9,151.5 180.3,152.6 180.7,150.2 181.2,144.1 181.6,142.5 182.0,145.9 182.5,146.5 182.9,149.5 183.3,151.5 183.8,151.1 184.2,150.8 184.6,147.8 185.1,136.6 185.5,141.3 185.9,148.8 186.3,152.4 186.8,148.3 187.2,149.1 187.6,144.4 188.1,151.8 188.5,143.4 188.9,147.9 189.4,151.1 189.8,147.1 190.2,149.9 190.7,150.8 191.1,153.7 191.5,153.0 192.0,150.5 192.4,152.1 192.8,149.0 193.3,151.9 193.7,144.4 194.1,130.5 194.6,147.1 195.0,150.3 195.4,151.9 195.9,153.1 196.3,152.1 196.7,154.9 197.2,148.1 197.6,154.7 198.0,152.4 198.5,149.5 198.9,151.4 199.3,147.4 199.8,154.1 200.2,148.0 200.6,147.2 201.1,148.3 201.5,150.4 201.9,155.1 202.4,146.8 202.8,133.3 203.2,149.5 203.7,153.7 204.1,155.9 204.5,153.9 205.0,153.9 205.4,148.7 205.8,152.0 206.2,155.0 206.7,152.6 207.1,156.0 207.5,156.3 208.0,154.8 208.4,142.6 208.8,146.8 209.3,147.2 209.7,154.0 210.1,159.1 210.6,157.8 211.0,156.9 211.4,153.9 211.9,156.1 212.3,153.9 212.7,152.4 213.2,151.3 213.6,149.6 214.0,154.3 214.5,152.6 214.9,146.1 215.3,149.9 215.8,136.1 216.2,152.6 216.6,156.6 217.1,158.3 217.5,152.7 217.9,156.3 218.4,160.5 218.8,154.2 219.2,152.6 219.7,160.4 220.1,159.0 220.5,157.6 221.0,156.4 221.4,157.4 221.8,150.5 222.3,159.6 222.7,160.9 223.1,158.7 223.6,161.5 224.0,158.7 224.4,161.3 224.9,160.2 225.3,160.8 225.7,162.5 226.1,162.0 226.6,153.9 227.0,158.9 227.4,162.4 227.9,158.0 228.3,152.6 228.7,138.9 229.2,152.4 229.6,160.0 230.0,161.0 230.5,162.5 230.9,160.6 231.3,159.5 231.8,156.5 232.2,161.5 232.6,159.0 233.1,152.4 233.5,160.0 233.9,161.2 234.4,164.2 234.8,160.5 235.2,158.0 235.7,162.8 236.1,160.9 236.5,161.7 237.0,151.7 237.4,161.0 237.8,155.0 238.3,155.9 238.7,161.1 239.1,155.7 239.6,162.9 240.0,166.4 240.4,165.9 240.9,161.9 241.3,155.6 241.7,141.6 242.2,150.4 242.6,157.3 243.0,156.7 243.5,159.6 243.9,160.8 244.3,166.5 244.8,164.2 245.2,166.9 245.6,162.6 246.0,166.5 246.5,165.2 246.9,161.5 247.3,166.2 247.8,162.0 248.2,163.8 248.6,166.9 249.1,164.2 249.5,166.3 249.9,164.0 250.4,159.1 250.8,161.5 251.2,162.0 251.7,160.9 252.1,162.1 252.5,152.7 253.0,156.6 253.4,162.6 253.8,168.4 254.3,167.5" stroke="#e02a2a" stroke-width="1.2" fill="none" stroke-linejoin="round"/>
<rect x="27.5" y="5.5" width="238.10" height="172.10" fill="none" stroke="#5a5a5a" stroke-width="1"/>
<rect x="135.5" y="9.2" width="126.8" height="39.4" rx="1.5" fill="#fff" fill-opacity="0.8" stroke="#d4d4d4" stroke-width="0.8"/>
<line x1="137.9" y1="13.9" x2="151.9" y2="13.9" stroke="#1f7fc0" stroke-width="1.4" stroke-opacity="0.7"/>
<text x="157.1" y="16.40" class="lg">RT-DETR-l loss:1.268</text>
<line x1="137.9" y1="23.5" x2="151.9" y2="23.5" stroke="#ff8214" stroke-width="1.4" stroke-opacity="0.7"/>
<text x="157.1" y="26.00" class="lg">RT-DETR-x loss:1.187</text>
<line x1="137.9" y1="33.0" x2="151.9" y2="33.0" stroke="#2ca32c" stroke-width="1.4" stroke-opacity="0.7"/>
<text x="157.1" y="35.50" class="lg">RT-DETR-ResNet50 loss:1.243</text>
<line x1="137.9" y1="42.6" x2="151.9" y2="42.6" stroke="#e02a2a" stroke-width="1.4" stroke-opacity="0.7"/>
<text x="157.1" y="45.10" class="lg">RT-DETR-ResNet101 loss:1.201</text>
<line x1="317.90" y1="177.0" x2="317.90" y2="179.40" stroke="#5a5a5a" stroke-width="1"/>
<text x="317.90" y="187.00" text-anchor="middle" class="tk">0</text>
<line x1="361.16" y1="177.0" x2="361.16" y2="179.40" stroke="#5a5a5a" stroke-width="1"/>
<text x="361.16" y="187.00" text-anchor="middle" class="tk">100</text>
<line x1="404.42" y1="177.0" x2="404.42" y2="179.40" stroke="#5a5a5a" stroke-width="1"/>
<text x="404.42" y="187.00" text-anchor="middle" class="tk">200</text>
<line x1="447.68" y1="177.0" x2="447.68" y2="179.40" stroke="#5a5a5a" stroke-width="1"/>
<text x="447.68" y="187.00" text-anchor="middle" class="tk">300</text>
<line x1="490.94" y1="177.0" x2="490.94" y2="179.40" stroke="#5a5a5a" stroke-width="1"/>
<text x="490.94" y="187.00" text-anchor="middle" class="tk">400</text>
<line x1="534.20" y1="177.0" x2="534.20" y2="179.40" stroke="#5a5a5a" stroke-width="1"/>
<text x="534.20" y="187.00" text-anchor="middle" class="tk">500</text>
<line x1="304.60" y1="168.60" x2="307.0" y2="168.60" stroke="#5a5a5a" stroke-width="1"/>
<text x="302.80" y="171.10" text-anchor="end" class="tk">0.0</text>
<line x1="304.60" y1="131.50" x2="307.0" y2="131.50" stroke="#5a5a5a" stroke-width="1"/>
<text x="302.80" y="134.00" text-anchor="end" class="tk">0.2</text>
<line x1="304.60" y1="94.40" x2="307.0" y2="94.40" stroke="#5a5a5a" stroke-width="1"/>
<text x="302.80" y="96.90" text-anchor="end" class="tk">0.4</text>
<line x1="304.60" y1="57.30" x2="307.0" y2="57.30" stroke="#5a5a5a" stroke-width="1"/>
<text x="302.80" y="59.80" text-anchor="end" class="tk">0.6</text>
<line x1="304.60" y1="20.20" x2="307.0" y2="20.20" stroke="#5a5a5a" stroke-width="1"/>
<text x="302.80" y="22.70" text-anchor="end" class="tk">0.8</text>
<text x="426.35" y="195.80" text-anchor="middle" class="lb">Epochs</text>
<text x="288.40" y="91.25" text-anchor="middle" class="lb" transform="rotate(-90 288.40 91.25)">mAP@0.5</text>
<polyline points="317.9,166.7 318.3,166.0 318.8,166.3 319.2,167.8 319.6,165.8 320.1,166.3 320.5,165.3 320.9,163.5 321.4,160.7 321.8,166.3 322.2,156.2 322.7,160.1 323.1,157.1 323.5,155.9 324.0,159.6 324.4,154.9 324.8,153.1 325.3,159.7 325.7,156.5 326.1,153.3 326.6,159.6 327.0,163.4 327.4,153.0 327.8,159.0 328.3,157.1 328.7,158.8 329.1,162.7 329.6,161.5 330.0,160.8 330.4,153.8 330.9,145.0 331.3,154.1 331.7,156.3 332.2,148.2 332.6,150.4 333.0,153.0 333.5,143.2 333.9,142.6 334.3,151.5 334.8,155.7 335.2,160.3 335.6,151.9 336.1,141.4 336.5,155.8 336.9,156.1 337.4,152.1 337.8,157.4 338.2,135.7 338.7,143.8 339.1,151.6 339.5,138.2 340.0,139.8 340.4,140.0 340.8,128.0 341.3,140.1 341.7,153.3 342.1,137.8 342.6,140.1 343.0,157.2 343.4,138.4 343.9,144.2 344.3,136.5 344.7,145.3 345.2,141.4 345.6,138.3 346.0,151.8 346.5,151.1 346.9,142.0 347.3,137.1 347.7,156.9 348.2,134.4 348.6,116.0 349.0,141.3 349.5,133.7 349.9,124.7 350.3,123.5 350.8,153.5 351.2,130.8 351.6,138.9 352.1,137.6 352.5,149.5 352.9,126.6 353.4,148.2 353.8,131.3 354.2,125.5 354.7,149.4 355.1,125.1 355.5,162.8 356.0,132.7 356.4,124.8 356.8,117.2 357.3,149.0 357.7,141.0 358.1,127.4 358.6,122.2 359.0,128.9 359.4,141.6 359.9,133.3 360.3,141.1 360.7,136.2 361.2,117.2 361.6,132.9 362.0,127.9 362.5,130.6 362.9,154.0 363.3,146.6 363.8,135.1 364.2,122.2 364.6,133.9 365.1,143.4 365.5,122.6 365.9,123.0 366.4,106.5 366.8,127.9 367.2,133.1 367.6,141.7 368.1,118.1 368.5,127.1 368.9,137.3 369.4,132.3 369.8,121.1 370.2,138.6 370.7,128.4 371.1,128.0 371.5,127.1 372.0,96.8 372.4,141.0 372.8,118.7 373.3,127.1 373.7,121.7 374.1,144.6 374.6,135.0 375.0,120.9 375.4,135.3 375.9,120.1 376.3,121.9 376.7,110.4 377.2,116.2 377.6,112.4 378.0,126.7 378.5,137.4 378.9,129.1 379.3,119.5 379.8,129.8 380.2,130.8 380.6,124.1 381.1,101.9 381.5,123.0 381.9,137.7 382.4,124.1 382.8,123.0 383.2,109.9 383.7,111.9 384.1,123.0 384.5,122.6 385.0,103.2 385.4,120.1 385.8,92.1 386.3,98.7 386.7,128.6 387.1,98.6 387.5,117.0 388.0,108.3 388.4,110.7 388.8,113.3 389.3,133.4 389.7,113.0 390.1,118.1 390.6,118.3 391.0,108.6 391.4,112.9 391.9,99.3 392.3,98.5 392.7,111.3 393.2,104.9 393.6,109.2 394.0,111.3 394.5,100.2 394.9,93.7 395.3,95.3 395.8,106.6 396.2,96.3 396.6,109.3 397.1,88.3 397.5,96.6 397.9,104.2 398.4,90.9 398.8,91.2 399.2,83.1 399.7,87.2 400.1,76.8 400.5,90.4 401.0,68.7 401.4,79.2 401.8,86.2 402.3,87.4 402.7,86.1 403.1,61.8 403.6,86.7 404.0,74.9 404.4,74.4 404.9,91.0 405.3,73.8 405.7,107.9 406.2,72.1 406.6,72.5 407.0,59.7 407.4,73.6 407.9,63.0 408.3,74.0 408.7,63.7 409.2,74.2 409.6,58.0 410.0,68.8 410.5,69.0 410.9,57.4 411.3,48.4 411.8,52.0 412.2,63.2 412.6,62.4 413.1,56.7 413.5,60.2 413.9,54.5 414.4,64.4 414.8,56.0 415.2,59.4 415.7,48.3 416.1,60.2 416.5,59.0 417.0,55.4 417.4,45.3 417.8,43.7 418.3,51.2 418.7,37.9 419.1,51.7 419.6,60.5 420.0,50.2 420.4,45.4 420.9,47.4 421.3,47.9 421.7,49.7 422.2,50.1 422.6,48.5 423.0,48.6 423.5,116.1 423.9,47.5 424.3,42.0 424.8,40.8 425.2,45.1 425.6,44.9 426.0,41.2 426.5,43.8 426.9,43.5 427.3,43.8 427.8,40.2 428.2,40.5 428.6,39.4 429.1,42.6 429.5,35.7 429.9,41.5 430.4,40.9 430.8,41.5 431.2,39.8 431.7,44.1 432.1,39.8 432.5,42.7 433.0,40.4 433.4,32.1 433.8,37.0 434.3,40.6 434.7,40.3 435.1,42.6 435.6,40.6 436.0,36.7 436.4,35.1 436.9,35.6 437.3,36.0 437.7,35.8 438.2,38.7 438.6,36.2 439.0,38.6 439.5,34.2 439.9,32.5 440.3,37.6 440.8,37.5 441.2,37.2 441.6,31.9 442.1,31.6 442.5,34.0 442.9,30.5 443.4,34.0 443.8,32.7 444.2,31.8 444.7,29.8 445.1,32.6 445.5,28.3 445.9,29.7 446.4,33.5 446.8,31.9 447.2,31.1 447.7,29.5 448.1,30.4 448.5,28.4 449.0,24.5 449.4,30.0 449.8,31.2 450.3,28.2 450.7,26.6 451.1,28.7 451.6,29.3 452.0,27.5 452.4,28.1 452.9,24.3 453.3,27.3 453.7,28.3 454.2,24.2 454.6,26.8 455.0,27.8 455.5,26.4 455.9,27.1 456.3,24.9 456.8,26.5 457.2,28.5 457.6,26.8 458.1,25.0 458.5,24.3 458.9,27.7 459.4,26.7 459.8,25.7 460.2,25.8 460.7,27.6 461.1,24.5 461.5,23.8 462.0,23.9 462.4,25.7 462.8,24.6 463.3,23.3 463.7,24.5 464.1,24.4 464.6,24.6 465.0,23.7 465.4,23.4 465.8,23.7 466.3,23.6 466.7,24.7 467.1,23.4 467.6,25.0 468.0,22.4 468.4,22.1 468.9,24.7 469.3,21.5 469.7,23.3 470.2,23.8 470.6,24.4 471.0,22.0 471.5,22.8 471.9,22.1 472.3,20.4 472.8,23.3 473.2,22.3 473.6,22.4 474.1,22.2 474.5,20.3 474.9,21.5 475.4,21.2 475.8,21.1 476.2,22.2 476.7,21.2 477.1,21.8 477.5,20.7 478.0,21.2 478.4,20.9 478.8,20.9 479.3,21.4 479.7,20.4 480.1,20.3 480.6,21.5 481.0,20.5 481.4,20.2 481.9,20.4 482.3,20.5 482.7,20.2 483.2,21.1 483.6,20.9 484.0,20.5 484.5,20.0 484.9,19.4 485.3,19.3 485.7,20.0 486.2,19.8 486.6,19.7 487.0,21.2 487.5,19.4 487.9,19.8 488.3,19.2 488.8,20.4 489.2,19.8 489.6,18.5 490.1,19.4 490.5,19.8 490.9,19.0 491.4,20.4 491.8,18.7 492.2,18.8 492.7,20.5 493.1,19.9 493.5,19.7 494.0,18.4 494.4,24.5 494.8,18.6 495.3,17.9 495.7,18.8 496.1,17.4 496.6,18.7 497.0,18.3 497.4,18.5 497.9,18.3 498.3,18.1 498.7,18.0 499.2,19.2 499.6,18.6 500.0,19.2 500.5,17.8 500.9,19.0 501.3,19.1 501.8,19.1 502.2,18.3 502.6,18.3 503.1,17.6 503.5,18.2 503.9,18.1 504.4,17.3 504.8,18.2 505.2,18.4 505.6,17.9 506.1,17.6 506.5,17.5 506.9,18.1 507.4,18.0 507.8,17.8 508.2,18.0 508.7,17.2 509.1,17.0 509.5,18.0 510.0,17.3 510.4,17.1 510.8,16.8 511.3,16.4 511.7,17.2 512.1,17.4 512.6,16.8 513.0,17.2 513.4,17.6 513.9,16.9 514.3,16.8 514.7,19.8 515.2,17.4 515.6,16.7 516.0,17.0 516.5,16.6 516.9,17.1 517.3,16.3 517.8,16.7 518.2,16.7 518.6,16.7 519.1,17.4 519.5,16.6 519.9,16.3 520.4,16.8 520.8,16.7 521.2,16.5 521.7,17.1 522.1,16.3 522.5,16.2 523.0,16.2 523.4,16.5 523.8,16.2 524.3,16.7 524.7,16.2 525.1,16.1 525.5,16.4 526.0,16.5 526.4,16.7 526.8,16.7 527.3,16.1 527.7,16.3 528.1,16.6 528.6,16.2 529.0,15.9 529.4,16.2 529.9,16.1 530.3,16.2 530.7,16.0 531.2,15.7 531.6,15.9 532.0,15.9 532.5,16.0 532.9,15.6 533.3,15.7 533.8,15.8" stroke="#1f7fc0" stroke-width="0.85" fill="none" stroke-linejoin="round"/>
<polyline points="317.9,166.7 318.3,166.0 318.8,165.6 319.2,164.9 319.6,163.1 320.1,168.1 320.5,165.8 320.9,166.2 321.4,162.6 321.8,158.2 322.2,160.9 322.7,159.4 323.1,167.4 323.5,157.2 324.0,154.7 324.4,150.3 324.8,153.4 325.3,154.9 325.7,159.7 326.1,152.4 326.6,151.7 327.0,157.4 327.4,159.6 327.8,142.1 328.3,156.8 328.7,157.6 329.1,149.2 329.6,164.3 330.0,149.9 330.4,161.2 330.9,147.6 331.3,156.4 331.7,144.1 332.2,159.5 332.6,151.5 333.0,156.3 333.5,149.9 333.9,154.4 334.3,148.7 334.8,137.2 335.2,148.4 335.6,152.4 336.1,166.2 336.5,145.8 336.9,143.3 337.4,141.6 337.8,148.6 338.2,159.5 338.7,150.3 339.1,142.5 339.5,150.6 340.0,144.3 340.4,136.8 340.8,150.3 341.3,134.3 341.7,132.6 342.1,140.0 342.6,136.4 343.0,133.7 343.4,125.5 343.9,138.1 344.3,142.6 344.7,135.5 345.2,150.9 345.6,154.9 346.0,148.1 346.5,139.1 346.9,141.1 347.3,154.4 347.7,164.8 348.2,146.2 348.6,142.4 349.0,139.3 349.5,135.1 349.9,135.5 350.3,136.4 350.8,139.6 351.2,147.5 351.6,149.7 352.1,139.4 352.5,134.8 352.9,130.5 353.4,133.6 353.8,130.6 354.2,127.7 354.7,150.3 355.1,140.8 355.5,131.7 356.0,129.5 356.4,146.6 356.8,127.7 357.3,138.1 357.7,132.6 358.1,149.3 358.6,126.7 359.0,148.5 359.4,128.3 359.9,138.0 360.3,143.7 360.7,154.7 361.2,150.6 361.6,136.3 362.0,134.7 362.5,138.2 362.9,135.9 363.3,120.2 363.8,128.1 364.2,119.4 364.6,130.5 365.1,135.4 365.5,122.6 365.9,112.8 366.4,148.5 366.8,122.0 367.2,145.8 367.6,117.4 368.1,120.5 368.5,115.6 368.9,129.5 369.4,136.8 369.8,122.3 370.2,124.3 370.7,132.9 371.1,140.7 371.5,119.7 372.0,121.2 372.4,102.8 372.8,128.8 373.3,136.5 373.7,123.4 374.1,137.4 374.6,137.3 375.0,107.8 375.4,126.8 375.9,126.8 376.3,140.0 376.7,111.1 377.2,119.8 377.6,119.8 378.0,125.3 378.5,120.1 378.9,128.3 379.3,128.4 379.8,113.1 380.2,140.3 380.6,134.6 381.1,123.0 381.5,119.7 381.9,138.1 382.4,118.9 382.8,118.2 383.2,114.7 383.7,122.2 384.1,87.6 384.5,113.3 385.0,127.7 385.4,118.2 385.8,105.8 386.3,128.1 386.7,109.0 387.1,117.2 387.5,122.8 388.0,125.8 388.4,162.9 388.8,91.7 389.3,109.4 389.7,125.2 390.1,122.0 390.6,114.3 391.0,102.1 391.4,112.7 391.9,99.6 392.3,99.4 392.7,101.3 393.2,131.1 393.6,104.3 394.0,108.5 394.5,115.6 394.9,120.6 395.3,82.2 395.8,113.8 396.2,109.5 396.6,100.1 397.1,82.5 397.5,90.1 397.9,93.2 398.4,94.1 398.8,91.6 399.2,77.7 399.7,87.4 400.1,94.4 400.5,80.9 401.0,82.3 401.4,128.5 401.8,84.8 402.3,67.5 402.7,108.9 403.1,73.9 403.6,77.3 404.0,79.9 404.4,91.6 404.9,89.3 405.3,62.9 405.7,67.9 406.2,85.9 406.6,94.4 407.0,68.2 407.4,67.1 407.9,87.2 408.3,76.1 408.7,65.1 409.2,66.8 409.6,64.8 410.0,67.6 410.5,69.3 410.9,93.9 411.3,59.9 411.8,66.0 412.2,61.6 412.6,60.0 413.1,60.3 413.5,159.8 413.9,59.2 414.4,61.5 414.8,63.6 415.2,59.7 415.7,62.8 416.1,56.3 416.5,56.5 417.0,60.5 417.4,55.7 417.8,59.0 418.3,75.9 418.7,55.3 419.1,50.9 419.6,53.6 420.0,56.5 420.4,54.6 420.9,56.6 421.3,58.1 421.7,51.1 422.2,48.3 422.6,55.8 423.0,57.6 423.5,55.8 423.9,57.2 424.3,46.8 424.8,46.6 425.2,49.9 425.6,54.6 426.0,65.1 426.5,50.0 426.9,46.8 427.3,45.3 427.8,45.1 428.2,43.2 428.6,42.5 429.1,43.8 429.5,46.8 429.9,45.9 430.4,48.6 430.8,45.4 431.2,68.4 431.7,41.8 432.1,43.5 432.5,50.2 433.0,42.8 433.4,43.7 433.8,41.3 434.3,45.2 434.7,44.1 435.1,37.5 435.6,42.3 436.0,44.9 436.4,40.8 436.9,36.0 437.3,42.2 437.7,40.5 438.2,40.8 438.6,41.2 439.0,36.8 439.5,37.2 439.9,37.1 440.3,36.8 440.8,40.8 441.2,39.7 441.6,38.0 442.1,34.0 442.5,35.1 442.9,34.2 443.4,39.0 443.8,34.9 444.2,37.0 444.7,38.2 445.1,36.5 445.5,33.1 445.9,33.0 446.4,32.7 446.8,32.6 447.2,32.6 447.7,33.6 448.1,35.2 448.5,34.7 449.0,31.9 449.4,33.1 449.8,31.0 450.3,31.9 450.7,33.1 451.1,31.1 451.6,31.5 452.0,31.4 452.4,30.5 452.9,28.9 453.3,34.9 453.7,30.5 454.2,127.2 454.6,32.5 455.0,30.6 455.5,31.2 455.9,29.7 456.3,31.1 456.8,30.7 457.2,29.3 457.6,30.3 458.1,30.8 458.5,30.9 458.9,33.4 459.4,31.0 459.8,32.3 460.2,28.4 460.7,29.8 461.1,30.9 461.5,28.9 462.0,28.5 462.4,30.1 462.8,28.9 463.3,29.7 463.7,30.9 464.1,28.7 464.6,27.9 465.0,29.4 465.4,28.7 465.8,29.7 466.3,27.0 466.7,26.3 467.1,27.0 467.6,28.9 468.0,26.9 468.4,26.7 468.9,28.1 469.3,74.3 469.7,25.0 470.2,25.4 470.6,29.0 471.0,25.7 471.5,25.1 471.9,26.2 472.3,24.8 472.8,25.4 473.2,23.5 473.6,27.4 474.1,23.9 474.5,24.0 474.9,25.6 475.4,78.6 475.8,23.2 476.2,25.3 476.7,23.4 477.1,24.6 477.5,22.9 478.0,23.5 478.4,22.3 478.8,99.9 479.3,22.6 479.7,23.8 480.1,23.7 480.6,153.9 481.0,24.3 481.4,21.3 481.9,22.7 482.3,21.9 482.7,22.2 483.2,150.9 483.6,21.5 484.0,21.7 484.5,20.5 484.9,22.1 485.3,22.3 485.7,21.6 486.2,21.7 486.6,20.9 487.0,21.7 487.5,20.5 487.9,20.1 488.3,20.6 488.8,20.7 489.2,21.4 489.6,19.2 490.1,19.6 490.5,19.9 490.9,19.4 491.4,19.0 491.8,20.2 492.2,19.1 492.7,19.1 493.1,19.1 493.5,19.8 494.0,19.5 494.4,19.1 494.8,18.8 495.3,39.5 495.7,86.6 496.1,103.8 496.6,90.8 497.0,60.6 497.4,34.7 497.9,19.9 498.3,16.9 498.7,17.9 499.2,17.7 499.6,16.8 500.0,16.9 500.5,17.8 500.9,16.7 501.3,16.3 501.8,16.6 502.2,17.6 502.6,15.9 503.1,16.5 503.5,20.4 503.9,31.8 504.4,43.2 504.8,54.6 505.2,61.5 505.6,52.3 506.1,38.5 506.5,24.6 506.9,17.7 507.4,16.8 507.8,15.1 508.2,15.8 508.7,16.1 509.1,15.7 509.5,15.8 510.0,15.4 510.4,15.5 510.8,15.8 511.3,16.0 511.7,15.4 512.1,15.7 512.6,15.4 513.0,15.5 513.4,15.0 513.9,15.2 514.3,15.6 514.7,15.1 515.2,15.6 515.6,15.1 516.0,14.8 516.5,14.6 516.9,14.8 517.3,15.0 517.8,14.4 518.2,15.0 518.6,14.9 519.1,14.7 519.5,14.9 519.9,15.1 520.4,14.5 520.8,14.5 521.2,14.7 521.7,14.9 522.1,14.5 522.5,14.4 523.0,14.3 523.4,14.0 523.8,14.3 524.3,14.1 524.7,14.1 525.1,14.3 525.5,14.2 526.0,13.9 526.4,13.7 526.8,13.9 527.3,13.9 527.7,14.1 528.1,14.0 528.6,14.5 529.0,13.9 529.4,13.5 529.9,13.7 530.3,13.8 530.7,13.8 531.2,14.0 531.6,13.6 532.0,13.7 532.5,13.4 532.9,13.5 533.3,13.6 533.8,13.5" stroke="#ff8214" stroke-width="0.85" fill="none" stroke-linejoin="round"/>
<polyline points="317.9,168.6 318.3,168.6 318.8,167.3 319.2,167.7 319.6,166.1 320.1,161.7 320.5,162.4 320.9,166.2 321.4,168.6 321.8,161.9 322.2,166.1 322.7,159.5 323.1,162.4 323.5,158.1 324.0,157.7 324.4,162.6 324.8,160.4 325.3,164.8 325.7,145.0 326.1,168.6 326.6,155.1 327.0,155.1 327.4,146.1 327.8,151.1 328.3,153.9 328.7,150.4 329.1,160.4 329.6,147.6 330.0,156.0 330.4,152.3 330.9,146.9 331.3,153.1 331.7,155.3 332.2,160.3 332.6,159.8 333.0,146.4 333.5,145.3 333.9,152.1 334.3,159.6 334.8,154.5 335.2,160.1 335.6,153.7 336.1,149.8 336.5,145.8 336.9,146.7 337.4,145.1 337.8,127.2 338.2,152.5 338.7,143.8 339.1,137.4 339.5,150.2 340.0,160.7 340.4,146.1 340.8,144.6 341.3,140.5 341.7,142.8 342.1,141.5 342.6,133.3 343.0,147.3 343.4,147.1 343.9,152.1 344.3,139.4 344.7,149.0 345.2,148.9 345.6,141.7 346.0,135.6 346.5,145.5 346.9,165.9 347.3,151.4 347.7,149.9 348.2,154.2 348.6,147.1 349.0,130.4 349.5,154.2 349.9,147.2 350.3,136.4 350.8,141.4 351.2,136.8 351.6,145.1 352.1,144.5 352.5,138.7 352.9,154.9 353.4,152.3 353.8,128.0 354.2,133.9 354.7,143.3 355.1,151.0 355.5,137.3 356.0,147.2 356.4,150.8 356.8,123.6 357.3,135.2 357.7,124.6 358.1,137.6 358.6,134.6 359.0,121.1 359.4,144.8 359.9,136.7 360.3,133.9 360.7,146.5 361.2,123.2 361.6,132.8 362.0,150.0 362.5,133.6 362.9,142.1 363.3,140.7 363.8,117.7 364.2,146.9 364.6,129.9 365.1,137.9 365.5,125.7 365.9,126.6 366.4,129.6 366.8,130.3 367.2,125.9 367.6,137.0 368.1,142.0 368.5,140.6 368.9,116.8 369.4,133.2 369.8,140.9 370.2,127.1 370.7,107.2 371.1,129.8 371.5,123.7 372.0,126.0 372.4,130.0 372.8,133.8 373.3,134.7 373.7,127.4 374.1,146.2 374.6,100.9 375.0,116.1 375.4,125.2 375.9,130.0 376.3,132.4 376.7,116.6 377.2,127.8 377.6,120.0 378.0,140.1 378.5,123.0 378.9,108.9 379.3,127.1 379.8,113.8 380.2,121.5 380.6,113.1 381.1,110.6 381.5,128.4 381.9,118.8 382.4,120.2 382.8,114.2 383.2,125.2 383.7,117.7 384.1,122.4 384.5,127.7 385.0,120.1 385.4,95.6 385.8,117.7 386.3,115.9 386.7,94.3 387.1,124.1 387.5,136.2 388.0,132.1 388.4,127.3 388.8,116.0 389.3,111.2 389.7,130.0 390.1,106.3 390.6,128.0 391.0,111.9 391.4,99.8 391.9,108.5 392.3,110.1 392.7,103.2 393.2,116.9 393.6,105.2 394.0,101.9 394.5,93.5 394.9,80.4 395.3,92.6 395.8,74.1 396.2,73.6 396.6,100.4 397.1,110.6 397.5,120.5 397.9,79.4 398.4,91.9 398.8,86.1 399.2,97.3 399.7,86.7 400.1,64.6 400.5,87.9 401.0,95.9 401.4,86.2 401.8,78.5 402.3,89.8 402.7,99.4 403.1,94.1 403.6,92.9 404.0,81.4 404.4,77.4 404.9,86.2 405.3,92.4 405.7,74.0 406.2,84.3 406.6,83.5 407.0,99.9 407.4,81.9 407.9,74.2 408.3,94.9 408.7,78.5 409.2,83.3 409.6,68.8 410.0,67.3 410.5,67.8 410.9,92.0 411.3,68.8 411.8,58.5 412.2,68.5 412.6,57.8 413.1,61.9 413.5,63.1 413.9,55.1 414.4,54.7 414.8,102.6 415.2,74.3 415.7,62.0 416.1,53.5 416.5,62.9 417.0,64.7 417.4,46.8 417.8,61.5 418.3,117.3 418.7,57.8 419.1,56.6 419.6,55.5 420.0,53.3 420.4,123.3 420.9,57.5 421.3,59.1 421.7,62.2 422.2,52.7 422.6,57.1 423.0,52.7 423.5,53.4 423.9,55.2 424.3,50.2 424.8,48.5 425.2,53.6 425.6,42.2 426.0,45.9 426.5,49.0 426.9,50.2 427.3,57.3 427.8,54.3 428.2,52.3 428.6,50.9 429.1,45.6 429.5,48.2 429.9,43.5 430.4,46.9 430.8,86.1 431.2,52.5 431.7,42.2 432.1,41.8 432.5,47.3 433.0,47.2 433.4,40.1 433.8,159.8 434.3,49.9 434.7,43.3 435.1,150.9 435.6,47.3 436.0,44.0 436.4,44.0 436.9,42.3 437.3,47.0 437.7,39.8 438.2,48.3 438.6,40.5 439.0,84.8 439.5,39.8 439.9,39.5 440.3,43.6 440.8,42.7 441.2,40.6 441.6,39.5 442.1,40.3 442.5,38.6 442.9,38.6 443.4,35.6 443.8,36.3 444.2,159.3 444.7,35.8 445.1,35.1 445.5,106.1 445.9,37.9 446.4,37.0 446.8,38.1 447.2,37.7 447.7,112.3 448.1,35.3 448.5,34.4 449.0,35.1 449.4,107.9 449.8,36.1 450.3,34.7 450.7,35.1 451.1,33.8 451.6,34.1 452.0,34.9 452.4,32.1 452.9,31.5 453.3,33.8 453.7,96.4 454.2,33.8 454.6,34.4 455.0,31.4 455.5,34.0 455.9,35.2 456.3,33.0 456.8,33.0 457.2,32.8 457.6,34.3 458.1,31.1 458.5,33.6 458.9,32.3 459.4,31.2 459.8,30.9 460.2,33.9 460.7,31.7 461.1,158.9 461.5,34.1 462.0,32.7 462.4,30.5 462.8,163.1 463.3,30.3 463.7,31.1 464.1,29.2 464.6,149.1 465.0,30.4 465.4,31.8 465.8,126.7 466.3,29.5 466.7,28.0 467.1,153.2 467.6,27.8 468.0,29.2 468.4,28.1 468.9,29.8 469.3,28.5 469.7,27.8 470.2,27.5 470.6,28.1 471.0,26.1 471.5,27.2 471.9,26.7 472.3,26.3 472.8,27.2 473.2,27.6 473.6,25.4 474.1,25.8 474.5,26.4 474.9,25.4 475.4,26.2 475.8,25.0 476.2,24.3 476.7,24.1 477.1,25.7 477.5,24.6 478.0,23.8 478.4,24.2 478.8,33.5 479.3,24.7 479.7,24.5 480.1,23.9 480.6,34.4 481.0,23.2 481.4,23.5 481.9,22.9 482.3,32.4 482.7,22.6 483.2,22.0 483.6,21.8 484.0,23.1 484.5,21.6 484.9,22.0 485.3,22.0 485.7,22.2 486.2,21.3 486.6,22.0 487.0,21.8 487.5,21.3 487.9,161.2 488.3,20.3 488.8,21.6 489.2,138.8 489.6,123.9 490.1,106.0 490.5,119.4 490.9,101.4 491.4,123.8 491.8,135.7 492.2,114.7 492.7,99.6 493.1,108.6 493.5,123.5 494.0,116.0 494.4,100.9 494.8,111.4 495.3,123.4 495.7,114.3 496.1,123.3 496.6,117.2 497.0,108.1 497.4,98.9 497.9,101.9 498.3,89.7 498.7,80.5 499.2,74.3 499.6,68.2 500.0,58.9 500.5,52.7 500.9,46.5 501.3,38.8 501.8,31.0 502.2,24.8 502.6,20.0 503.1,15.5 503.5,15.3 503.9,14.8 504.4,14.8 504.8,15.1 505.2,15.1 505.6,14.8 506.1,14.4 506.5,14.9 506.9,15.0 507.4,14.7 507.8,15.4 508.2,14.4 508.7,15.9 509.1,14.8 509.5,15.2 510.0,15.2 510.4,14.8 510.8,14.8 511.3,14.3 511.7,14.9 512.1,15.2 512.6,15.0 513.0,14.4 513.4,14.0 513.9,14.8 514.3,14.7 514.7,14.3 515.2,14.2 515.6,14.5 516.0,14.6 516.5,14.4 516.9,14.3 517.3,14.3 517.8,14.6 518.2,14.2 518.6,14.6 519.1,14.2 519.5,14.2 519.9,14.3 520.4,14.2 520.8,13.5 521.2,13.7 521.7,13.5 522.1,13.7 522.5,13.9 523.0,13.8 523.4,14.2 523.8,13.8 524.3,13.8 524.7,13.6 525.1,14.2 525.5,13.7 526.0,13.6 526.4,14.1 526.8,13.8 527.3,13.4 527.7,13.6 528.1,13.2 528.6,13.5 529.0,13.6 529.4,13.6 529.9,13.4 530.3,13.4 530.7,13.3 531.2,13.4 531.6,13.5 532.0,13.4 532.5,13.2 532.9,13.2 533.3,13.3 533.8,12.9" stroke="#2ca32c" stroke-width="0.85" fill="none" stroke-linejoin="round"/>
<polyline points="317.9,165.8 318.3,166.0 318.8,166.2 319.2,168.5 319.6,164.9 320.1,162.1 320.5,163.6 320.9,161.8 321.4,161.6 321.8,163.7 322.2,152.0 322.7,162.0 323.1,156.2 323.5,147.1 324.0,156.9 324.4,156.0 324.8,159.5 325.3,153.2 325.7,166.4 326.1,158.4 326.6,149.4 327.0,144.7 327.4,155.9 327.8,151.2 328.3,151.9 328.7,152.7 329.1,148.8 329.6,168.6 330.0,148.0 330.4,154.5 330.9,150.3 331.3,150.1 331.7,160.1 332.2,150.5 332.6,156.7 333.0,145.2 333.5,150.1 333.9,143.7 334.3,154.9 334.8,137.4 335.2,148.2 335.6,139.1 336.1,141.9 336.5,155.3 336.9,142.9 337.4,148.8 337.8,144.6 338.2,134.1 338.7,139.7 339.1,135.2 339.5,156.3 340.0,139.8 340.4,138.8 340.8,133.8 341.3,148.6 341.7,138.0 342.1,138.6 342.6,152.7 343.0,149.2 343.4,137.0 343.9,150.4 344.3,156.9 344.7,136.7 345.2,165.8 345.6,142.4 346.0,138.5 346.5,146.1 346.9,146.3 347.3,142.4 347.7,127.0 348.2,131.6 348.6,142.6 349.0,142.2 349.5,145.2 349.9,134.8 350.3,138.1 350.8,130.3 351.2,143.2 351.6,133.7 352.1,142.3 352.5,129.4 352.9,125.0 353.4,139.5 353.8,154.7 354.2,139.1 354.7,149.5 355.1,144.6 355.5,147.0 356.0,135.8 356.4,134.8 356.8,133.9 357.3,148.5 357.7,135.3 358.1,151.5 358.6,126.8 359.0,135.1 359.4,132.0 359.9,115.2 360.3,140.0 360.7,121.7 361.2,131.8 361.6,127.8 362.0,128.6 362.5,126.3 362.9,115.8 363.3,129.8 363.8,121.0 364.2,136.2 364.6,129.5 365.1,133.2 365.5,120.7 365.9,135.8 366.4,134.7 366.8,119.5 367.2,118.6 367.6,136.3 368.1,146.4 368.5,127.1 368.9,126.5 369.4,131.7 369.8,156.1 370.2,118.7 370.7,120.6 371.1,106.6 371.5,126.4 372.0,136.3 372.4,121.3 372.8,140.9 373.3,126.9 373.7,127.3 374.1,123.6 374.6,136.2 375.0,127.6 375.4,134.3 375.9,127.1 376.3,98.4 376.7,128.2 377.2,125.1 377.6,136.1 378.0,117.8 378.5,120.4 378.9,93.1 379.3,115.3 379.8,120.2 380.2,130.3 380.6,113.8 381.1,127.0 381.5,121.6 381.9,108.6 382.4,118.3 382.8,132.9 383.2,140.5 383.7,119.4 384.1,112.3 384.5,114.8 385.0,116.6 385.4,102.1 385.8,103.4 386.3,123.5 386.7,113.8 387.1,129.8 387.5,104.7 388.0,94.1 388.4,117.8 388.8,112.8 389.3,112.6 389.7,110.2 390.1,93.7 390.6,103.4 391.0,117.8 391.4,106.1 391.9,108.2 392.3,90.2 392.7,120.0 393.2,108.5 393.6,97.3 394.0,106.5 394.5,95.4 394.9,104.3 395.3,112.7 395.8,108.4 396.2,107.4 396.6,88.8 397.1,83.4 397.5,111.1 397.9,99.8 398.4,86.2 398.8,89.9 399.2,101.9 399.7,78.9 400.1,77.7 400.5,77.4 401.0,90.9 401.4,81.6 401.8,69.6 402.3,84.4 402.7,94.3 403.1,76.5 403.6,68.9 404.0,68.7 404.4,75.6 404.9,53.6 405.3,82.2 405.7,81.1 406.2,77.8 406.6,78.6 407.0,66.7 407.4,82.5 407.9,62.8 408.3,58.8 408.7,67.9 409.2,64.4 409.6,54.8 410.0,63.9 410.5,65.9 410.9,53.8 411.3,63.1 411.8,45.5 412.2,58.5 412.6,62.5 413.1,51.2 413.5,53.4 413.9,55.1 414.4,50.3 414.8,54.0 415.2,47.6 415.7,53.7 416.1,56.2 416.5,53.4 417.0,50.5 417.4,44.2 417.8,46.6 418.3,49.8 418.7,50.0 419.1,45.2 419.6,46.5 420.0,40.0 420.4,45.5 420.9,44.0 421.3,45.3 421.7,45.1 422.2,45.2 422.6,42.4 423.0,44.3 423.5,44.4 423.9,36.1 424.3,47.5 424.8,40.8 425.2,42.0 425.6,42.7 426.0,45.4 426.5,44.2 426.9,46.3 427.3,41.6 427.8,37.8 428.2,40.3 428.6,39.0 429.1,36.0 429.5,39.1 429.9,38.0 430.4,44.1 430.8,40.4 431.2,40.6 431.7,38.0 432.1,41.1 432.5,35.5 433.0,45.6 433.4,37.1 433.8,72.3 434.3,31.3 434.7,36.2 435.1,37.5 435.6,35.3 436.0,34.9 436.4,35.2 436.9,32.7 437.3,33.5 437.7,36.2 438.2,34.4 438.6,35.9 439.0,32.2 439.5,29.7 439.9,31.9 440.3,32.8 440.8,30.6 441.2,28.8 441.6,30.2 442.1,29.5 442.5,30.9 442.9,29.2 443.4,28.0 443.8,26.5 444.2,26.6 444.7,29.8 445.1,28.4 445.5,29.7 445.9,29.3 446.4,27.6 446.8,25.1 447.2,25.4 447.7,27.2 448.1,28.2 448.5,30.6 449.0,25.3 449.4,25.5 449.8,27.1 450.3,26.0 450.7,26.4 451.1,23.2 451.6,26.9 452.0,27.1 452.4,26.8 452.9,26.4 453.3,25.3 453.7,25.9 454.2,24.9 454.6,24.4 455.0,25.3 455.5,23.8 455.9,29.4 456.3,27.1 456.8,24.7 457.2,24.8 457.6,23.5 458.1,26.0 458.5,27.0 458.9,25.3 459.4,26.0 459.8,24.2 460.2,23.1 460.7,24.8 461.1,25.0 461.5,23.3 462.0,24.7 462.4,24.6 462.8,22.6 463.3,24.6 463.7,22.9 464.1,23.0 464.6,23.2 465.0,23.8 465.4,21.2 465.8,21.8 466.3,23.0 466.7,22.9 467.1,20.9 467.6,23.4 468.0,23.4 468.4,24.3 468.9,21.8 469.3,21.9 469.7,21.3 470.2,20.4 470.6,22.9 471.0,21.9 471.5,19.6 471.9,20.6 472.3,22.3 472.8,21.4 473.2,20.5 473.6,23.4 474.1,22.3 474.5,20.5 474.9,39.4 475.4,21.4 475.8,21.0 476.2,21.9 476.7,20.2 477.1,19.5 477.5,20.5 478.0,20.9 478.4,19.6 478.8,20.9 479.3,20.3 479.7,19.8 480.1,19.5 480.6,19.3 481.0,19.6 481.4,20.0 481.9,21.4 482.3,21.2 482.7,19.1 483.2,19.5 483.6,19.3 484.0,19.8 484.5,20.2 484.9,18.5 485.3,36.9 485.7,19.2 486.2,20.2 486.6,18.3 487.0,19.2 487.5,19.7 487.9,18.7 488.3,20.2 488.8,18.9 489.2,18.8 489.6,19.5 490.1,18.5 490.5,19.2 490.9,18.3 491.4,19.1 491.8,18.6 492.2,19.9 492.7,19.4 493.1,19.3 493.5,19.1 494.0,18.7 494.4,18.6 494.8,18.5 495.3,19.5 495.7,18.3 496.1,18.1 496.6,18.4 497.0,17.8 497.4,19.0 497.9,18.0 498.3,18.0 498.7,17.8 499.2,17.9 499.6,22.0 500.0,17.8 500.5,17.7 500.9,17.7 501.3,17.2 501.8,17.3 502.2,17.2 502.6,18.7 503.1,17.8 503.5,17.9 503.9,17.4 504.4,17.0 504.8,17.6 505.2,17.7 505.6,17.1 506.1,16.7 506.5,16.6 506.9,16.6 507.4,17.5 507.8,16.5 508.2,17.0 508.7,17.6 509.1,16.7 509.5,16.7 510.0,16.8 510.4,17.0 510.8,16.4 511.3,16.4 511.7,16.5 512.1,17.1 512.6,16.4 513.0,17.0 513.4,16.8 513.9,16.0 514.3,16.8 514.7,17.0 515.2,16.3 515.6,16.7 516.0,16.6 516.5,16.4 516.9,16.6 517.3,16.0 517.8,16.0 518.2,16.2 518.6,16.2 519.1,16.7 519.5,16.2 519.9,16.1 520.4,16.3 520.8,16.2 521.2,16.7 521.7,15.7 522.1,16.2 522.5,15.8 523.0,16.0 523.4,16.0 523.8,16.1 524.3,15.5 524.7,15.7 525.1,16.0 525.5,15.9 526.0,15.7 526.4,15.3 526.8,15.9 527.3,15.7 527.7,15.4 528.1,15.6 528.6,15.6 529.0,15.3 529.4,15.5 529.9,15.3 530.3,15.7 530.7,15.4 531.2,15.5 531.6,15.4 532.0,15.3 532.5,15.0 532.9,15.3 533.3,15.0 533.8,15.1" stroke="#e02a2a" stroke-width="0.85" fill="none" stroke-linejoin="round"/>
<rect x="307.0" y="5.5" width="237.50" height="171.50" fill="none" stroke="#5a5a5a" stroke-width="1"/>
<rect x="393.2" y="134.1" width="148.4" height="39.2" rx="1.5" fill="#fff" fill-opacity="0.8" stroke="#d4d4d4" stroke-width="0.8"/>
<line x1="395.5" y1="139.0" x2="409.2" y2="139.0" stroke="#1f7fc0" stroke-width="1.4" stroke-opacity="0.7"/>
<text x="414.7" y="141.50" class="lg">RT-DETR-l&#160;&#160;mAP@0.5:0.826</text>
<line x1="395.5" y1="148.6" x2="409.2" y2="148.6" stroke="#ff8214" stroke-width="1.4" stroke-opacity="0.7"/>
<text x="414.7" y="151.10" class="lg">RT-DETR-x&#160;&#160;mAP@0.5:0.837</text>
<line x1="395.5" y1="157.9" x2="409.2" y2="157.9" stroke="#2ca32c" stroke-width="1.4" stroke-opacity="0.7"/>
<text x="414.7" y="160.40" class="lg">RT-DETR-ResNet50&#160;&#160;mAP@0.5:0.839</text>
<line x1="395.5" y1="167.5" x2="409.2" y2="167.5" stroke="#e02a2a" stroke-width="1.4" stroke-opacity="0.7"/>
<text x="414.7" y="170.00" class="lg">RT-DETR-ResNet101&#160;&#160;mAP@0.5:0.828</text>
<line x1="38.50" y1="393.7" x2="38.50" y2="396.10" stroke="#5a5a5a" stroke-width="1"/>
<text x="38.50" y="403.70" text-anchor="middle" class="tk">0</text>
<line x1="81.76" y1="393.7" x2="81.76" y2="396.10" stroke="#5a5a5a" stroke-width="1"/>
<text x="81.76" y="403.70" text-anchor="middle" class="tk">100</text>
<line x1="125.02" y1="393.7" x2="125.02" y2="396.10" stroke="#5a5a5a" stroke-width="1"/>
<text x="125.02" y="403.70" text-anchor="middle" class="tk">200</text>
<line x1="168.28" y1="393.7" x2="168.28" y2="396.10" stroke="#5a5a5a" stroke-width="1"/>
<text x="168.28" y="403.70" text-anchor="middle" class="tk">300</text>
<line x1="211.54" y1="393.7" x2="211.54" y2="396.10" stroke="#5a5a5a" stroke-width="1"/>
<text x="211.54" y="403.70" text-anchor="middle" class="tk">400</text>
<line x1="254.80" y1="393.7" x2="254.80" y2="396.10" stroke="#5a5a5a" stroke-width="1"/>
<text x="254.80" y="403.70" text-anchor="middle" class="tk">500</text>
<line x1="25.40" y1="385.80" x2="27.8" y2="385.80" stroke="#5a5a5a" stroke-width="1"/>
<text x="23.60" y="388.30" text-anchor="end" class="tk">0.0</text>
<line x1="25.40" y1="365.50" x2="27.8" y2="365.50" stroke="#5a5a5a" stroke-width="1"/>
<text x="23.60" y="368.00" text-anchor="end" class="tk">0.1</text>
<line x1="25.40" y1="345.20" x2="27.8" y2="345.20" stroke="#5a5a5a" stroke-width="1"/>
<text x="23.60" y="347.70" text-anchor="end" class="tk">0.2</text>
<line x1="25.40" y1="324.90" x2="27.8" y2="324.90" stroke="#5a5a5a" stroke-width="1"/>
<text x="23.60" y="327.40" text-anchor="end" class="tk">0.3</text>
<line x1="25.40" y1="304.60" x2="27.8" y2="304.60" stroke="#5a5a5a" stroke-width="1"/>
<text x="23.60" y="307.10" text-anchor="end" class="tk">0.4</text>
<line x1="25.40" y1="284.30" x2="27.8" y2="284.30" stroke="#5a5a5a" stroke-width="1"/>
<text x="23.60" y="286.80" text-anchor="end" class="tk">0.5</text>
<line x1="25.40" y1="264.00" x2="27.8" y2="264.00" stroke="#5a5a5a" stroke-width="1"/>
<text x="23.60" y="266.50" text-anchor="end" class="tk">0.6</text>
<line x1="25.40" y1="243.70" x2="27.8" y2="243.70" stroke="#5a5a5a" stroke-width="1"/>
<text x="23.60" y="246.20" text-anchor="end" class="tk">0.7</text>
<line x1="25.40" y1="223.40" x2="27.8" y2="223.40" stroke="#5a5a5a" stroke-width="1"/>
<text x="23.60" y="225.90" text-anchor="end" class="tk">0.8</text>
<text x="147.20" y="412.50" text-anchor="middle" class="lb">Epochs</text>
<text x="9.20" y="305.50" text-anchor="middle" class="lb" transform="rotate(-90 9.20 305.50)">precision</text>
<polyline points="38.5,385.8 38.9,385.3 39.4,385.8 39.8,383.3 40.2,384.4 40.7,384.5 41.1,383.3 41.5,382.0 42.0,377.4 42.4,370.2 42.8,368.9 43.3,368.1 43.7,381.0 44.1,380.6 44.6,361.5 45.0,362.5 45.4,349.0 45.9,360.1 46.3,375.0 46.7,358.4 47.2,375.5 47.6,365.9 48.0,364.0 48.4,369.6 48.9,366.2 49.3,353.5 49.7,365.2 50.2,355.3 50.6,370.6 51.0,366.9 51.5,361.4 51.9,370.2 52.3,364.1 52.8,348.0 53.2,361.7 53.6,376.4 54.1,362.3 54.5,368.9 54.9,361.4 55.4,365.7 55.8,360.0 56.2,353.2 56.7,379.7 57.1,353.8 57.5,368.4 58.0,368.8 58.4,371.6 58.8,359.6 59.3,357.3 59.7,359.1 60.1,362.0 60.6,349.9 61.0,348.7 61.4,371.6 61.9,349.3 62.3,370.4 62.7,362.7 63.2,356.5 63.6,354.7 64.0,365.6 64.5,359.1 64.9,357.4 65.3,362.9 65.8,359.1 66.2,356.5 66.6,348.0 67.1,356.0 67.5,356.1 67.9,355.8 68.3,354.5 68.8,354.2 69.2,363.7 69.6,367.3 70.1,350.7 70.5,353.8 70.9,353.9 71.4,344.1 71.8,337.0 72.2,368.7 72.7,349.0 73.1,348.7 73.5,355.6 74.0,343.2 74.4,336.4 74.8,341.6 75.3,346.6 75.7,338.1 76.1,341.1 76.6,338.2 77.0,351.8 77.4,353.9 77.9,333.9 78.3,350.8 78.7,325.5 79.2,343.1 79.6,337.9 80.0,353.1 80.5,348.4 80.9,342.9 81.3,329.4 81.8,361.7 82.2,338.7 82.6,353.3 83.1,321.2 83.5,326.4 83.9,343.4 84.4,347.5 84.8,351.3 85.2,328.8 85.7,321.6 86.1,332.5 86.5,336.2 87.0,345.0 87.4,336.7 87.8,333.2 88.2,336.7 88.7,322.4 89.1,343.3 89.5,347.2 90.0,347.8 90.4,341.5 90.8,337.1 91.3,347.7 91.7,339.2 92.1,325.7 92.6,329.0 93.0,324.6 93.4,320.1 93.9,343.1 94.3,349.2 94.7,338.1 95.2,318.9 95.6,341.6 96.0,347.0 96.5,316.1 96.9,333.5 97.3,324.2 97.8,336.4 98.2,321.5 98.6,333.9 99.1,318.7 99.5,325.0 99.9,334.1 100.4,325.3 100.8,326.5 101.2,328.4 101.7,346.8 102.1,340.5 102.5,331.8 103.0,331.8 103.4,323.0 103.8,333.3 104.3,328.5 104.7,323.7 105.1,317.6 105.6,324.8 106.0,311.7 106.4,331.0 106.9,331.8 107.3,318.9 107.7,315.5 108.1,327.7 108.6,327.1 109.0,333.4 109.4,320.0 109.9,324.1 110.3,333.0 110.7,320.8 111.2,318.9 111.6,321.2 112.0,324.8 112.5,317.1 112.9,328.0 113.3,313.2 113.8,311.0 114.2,304.2 114.6,312.8 115.1,327.6 115.5,316.5 115.9,306.2 116.4,309.1 116.8,303.1 117.2,310.9 117.7,311.2 118.1,312.9 118.5,321.6 119.0,300.2 119.4,308.8 119.8,309.6 120.3,308.6 120.7,308.0 121.1,292.5 121.6,289.7 122.0,311.3 122.4,296.0 122.9,276.3 123.3,297.6 123.7,290.8 124.2,298.7 124.6,296.9 125.0,296.2 125.5,306.8 125.9,293.0 126.3,327.0 126.8,294.2 127.2,286.9 127.6,286.0 128.0,285.6 128.5,297.5 128.9,295.9 129.3,299.9 129.8,296.6 130.2,288.8 130.6,290.1 131.1,297.6 131.5,279.7 131.9,295.2 132.4,283.3 132.8,282.3 133.2,289.3 133.7,275.9 134.1,288.4 134.5,290.3 135.0,275.9 135.4,282.4 135.8,281.9 136.3,268.0 136.7,275.5 137.1,283.9 137.6,275.0 138.0,268.7 138.4,273.8 138.9,266.3 139.3,269.6 139.7,267.2 140.2,269.9 140.6,263.2 141.0,271.3 141.5,269.1 141.9,264.5 142.3,268.0 142.8,269.0 143.2,259.6 143.6,267.1 144.1,257.4 144.5,264.0 144.9,315.2 145.4,257.6 145.8,258.9 146.2,259.5 146.6,259.4 147.1,256.0 147.5,256.3 147.9,256.7 148.4,253.7 148.8,252.3 149.2,258.4 149.7,260.7 150.1,253.1 150.5,251.3 151.0,253.9 151.4,256.7 151.8,250.1 152.3,251.9 152.7,250.0 153.1,250.3 153.6,249.9 154.0,251.7 154.4,254.5 154.9,248.1 155.3,250.9 155.7,247.8 156.2,256.5 156.6,243.0 157.0,247.4 157.5,250.5 157.9,250.4 158.3,252.2 158.8,249.0 159.2,252.5 159.6,249.0 160.1,250.8 160.5,250.2 160.9,247.5 161.4,244.6 161.8,253.8 162.2,246.6 162.7,246.3 163.1,244.5 163.5,248.8 164.0,243.2 164.4,249.2 164.8,245.0 165.3,245.3 165.7,243.6 166.1,244.3 166.5,245.1 167.0,243.3 167.4,244.8 167.8,242.9 168.3,240.4 168.7,242.0 169.1,243.7 169.6,241.5 170.0,241.3 170.4,241.9 170.9,240.9 171.3,242.3 171.7,240.9 172.2,239.9 172.6,243.6 173.0,240.6 173.5,239.8 173.9,242.8 174.3,242.4 174.8,241.7 175.2,242.1 175.6,239.9 176.1,243.7 176.5,239.9 176.9,241.8 177.4,241.3 177.8,240.4 178.2,241.3 178.7,243.4 179.1,237.9 179.5,239.9 180.0,240.7 180.4,238.3 180.8,239.3 181.3,239.9 181.7,242.0 182.1,239.4 182.6,241.6 183.0,239.4 183.4,241.0 183.9,239.2 184.3,239.2 184.7,238.4 185.2,238.7 185.6,239.4 186.0,240.5 186.4,237.7 186.9,237.7 187.3,236.6 187.7,236.8 188.2,237.5 188.6,238.4 189.0,237.6 189.5,237.9 189.9,237.0 190.3,235.6 190.8,237.0 191.2,235.8 191.6,235.1 192.1,236.8 192.5,235.3 192.9,235.0 193.4,234.1 193.8,235.4 194.2,236.2 194.7,236.4 195.1,237.2 195.5,235.6 196.0,236.5 196.4,233.5 196.8,234.4 197.3,235.6 197.7,235.4 198.1,237.3 198.6,236.4 199.0,236.3 199.4,236.2 199.9,235.3 200.3,237.6 200.7,235.4 201.2,234.0 201.6,235.7 202.0,234.7 202.5,235.9 202.9,234.7 203.3,234.4 203.8,234.6 204.2,235.1 204.6,234.4 205.1,235.1 205.5,235.3 205.9,235.4 206.3,234.7 206.8,235.1 207.2,234.1 207.6,235.0 208.1,234.2 208.5,234.5 208.9,235.8 209.4,234.6 209.8,235.8 210.2,235.1 210.7,234.3 211.1,234.3 211.5,233.5 212.0,234.1 212.4,233.7 212.8,233.8 213.3,233.8 213.7,235.0 214.1,232.9 214.6,234.4 215.0,239.4 215.4,233.5 215.9,234.1 216.3,232.9 216.7,233.1 217.2,234.0 217.6,232.4 218.0,232.5 218.5,232.3 218.9,233.1 219.3,233.0 219.8,232.5 220.2,232.5 220.6,233.3 221.1,232.1 221.5,231.9 221.9,231.8 222.4,231.9 222.8,232.2 223.2,231.4 223.7,232.5 224.1,231.5 224.5,231.5 225.0,231.9 225.4,231.2 225.8,231.8 226.2,231.6 226.7,231.2 227.1,231.0 227.5,230.4 228.0,230.7 228.4,231.0 228.8,230.7 229.3,230.2 229.7,229.8 230.1,230.5 230.6,229.7 231.0,230.1 231.4,230.1 231.9,229.4 232.3,229.9 232.7,229.6 233.2,230.0 233.6,229.5 234.0,229.1 234.5,229.3 234.9,229.9 235.3,232.2 235.8,229.1 236.2,229.1 236.6,229.1 237.1,228.8 237.5,228.9 237.9,228.7 238.4,229.2 238.8,228.9 239.2,228.9 239.7,228.6 240.1,228.4 240.5,228.9 241.0,228.7 241.4,228.9 241.8,228.6 242.3,229.3 242.7,228.7 243.1,228.2 243.6,228.8 244.0,228.7 244.4,228.7 244.9,229.4 245.3,228.5 245.7,229.0 246.1,229.1 246.6,228.3 247.0,228.5 247.4,229.0 247.9,228.5 248.3,228.6 248.7,228.6 249.2,228.5 249.6,228.3 250.0,228.4 250.5,228.3 250.9,228.5 251.3,228.4 251.8,228.3 252.2,228.8 252.6,228.5 253.1,228.4 253.5,228.3 253.9,229.0 254.4,228.0" stroke="#1f7fc0" stroke-width="0.85" fill="none" stroke-linejoin="round"/>
<polyline points="38.5,385.8 38.9,385.8 39.4,385.8 39.8,385.8 40.2,381.9 40.7,385.8 41.1,375.9 41.5,374.0 42.0,377.6 42.4,375.5 42.8,378.6 43.3,364.6 43.7,358.0 44.1,364.9 44.6,360.7 45.0,365.8 45.4,373.8 45.9,375.7 46.3,275.8 46.7,284.3 47.2,371.6 47.6,375.4 48.0,363.1 48.4,366.9 48.9,372.3 49.3,371.6 49.7,354.1 50.2,359.1 50.6,376.5 51.0,360.0 51.5,356.6 51.9,367.8 52.3,361.6 52.8,352.7 53.2,379.8 53.6,352.3 54.1,370.7 54.5,369.4 54.9,368.6 55.4,360.6 55.8,357.5 56.2,357.2 56.7,368.0 57.1,359.7 57.5,352.6 58.0,349.0 58.4,353.2 58.8,346.5 59.3,352.1 59.7,338.0 60.1,356.5 60.6,358.7 61.0,354.1 61.4,353.2 61.9,372.6 62.3,359.2 62.7,356.9 63.2,372.5 63.6,368.9 64.0,344.3 64.5,354.6 64.9,359.3 65.3,355.1 65.8,341.7 66.2,363.7 66.6,358.0 67.1,355.1 67.5,362.7 67.9,327.8 68.3,340.7 68.8,347.7 69.2,337.9 69.6,351.7 70.1,349.0 70.5,350.4 70.9,353.7 71.4,341.9 71.8,360.4 72.2,357.5 72.7,333.2 73.1,351.8 73.5,344.9 74.0,355.0 74.4,363.6 74.8,334.0 75.3,356.3 75.7,362.3 76.1,340.6 76.6,352.0 77.0,344.0 77.4,340.9 77.9,333.2 78.3,338.8 78.7,337.1 79.2,337.7 79.6,334.4 80.0,358.7 80.5,329.8 80.9,332.2 81.3,346.3 81.8,341.8 82.2,339.7 82.6,337.6 83.1,331.7 83.5,346.2 83.9,329.2 84.4,345.0 84.8,332.8 85.2,321.9 85.7,345.9 86.1,331.9 86.5,319.3 87.0,333.6 87.4,337.0 87.8,342.5 88.2,334.2 88.7,336.9 89.1,341.2 89.5,332.9 90.0,344.9 90.4,340.1 90.8,342.1 91.3,341.7 91.7,324.2 92.1,333.3 92.6,341.1 93.0,328.8 93.4,325.1 93.9,341.4 94.3,344.1 94.7,359.0 95.2,333.9 95.6,333.2 96.0,327.6 96.5,341.1 96.9,336.5 97.3,332.9 97.8,332.0 98.2,319.7 98.6,328.8 99.1,320.5 99.5,325.4 99.9,344.4 100.4,318.6 100.8,337.3 101.2,327.5 101.7,370.3 102.1,328.4 102.5,311.3 103.0,327.9 103.4,332.7 103.8,304.4 104.3,310.2 104.7,321.6 105.1,331.7 105.6,337.4 106.0,318.0 106.4,313.4 106.9,328.2 107.3,322.2 107.7,327.9 108.1,327.8 108.6,321.1 109.0,326.6 109.4,323.7 109.9,361.3 110.3,309.4 110.7,328.6 111.2,307.7 111.6,298.3 112.0,312.5 112.5,322.9 112.9,326.3 113.3,315.8 113.8,322.3 114.2,308.7 114.6,301.8 115.1,317.3 115.5,310.9 115.9,312.6 116.4,309.7 116.8,318.9 117.2,326.0 117.7,292.6 118.1,311.2 118.5,296.8 119.0,294.7 119.4,310.0 119.8,311.4 120.3,313.6 120.7,305.4 121.1,294.0 121.6,308.6 122.0,305.6 122.4,316.7 122.9,298.2 123.3,331.3 123.7,299.9 124.2,295.0 124.6,299.3 125.0,297.5 125.5,290.5 125.9,295.6 126.3,300.1 126.8,293.5 127.2,297.8 127.6,301.8 128.0,289.0 128.5,289.9 128.9,285.5 129.3,288.6 129.8,292.6 130.2,288.8 130.6,289.0 131.1,294.0 131.5,314.4 131.9,288.0 132.4,291.9 132.8,287.1 133.2,278.9 133.7,380.5 134.1,285.2 134.5,286.9 135.0,283.4 135.4,278.9 135.8,273.8 136.3,279.2 136.7,274.5 137.1,275.8 137.6,279.0 138.0,280.6 138.4,278.1 138.9,279.9 139.3,273.1 139.7,273.2 140.2,274.6 140.6,286.1 141.0,272.0 141.5,273.0 141.9,270.3 142.3,268.7 142.8,264.9 143.2,267.1 143.6,268.6 144.1,266.0 144.5,266.8 144.9,262.2 145.4,266.6 145.8,265.5 146.2,265.0 146.6,266.5 147.1,266.6 147.5,263.5 147.9,262.9 148.4,256.0 148.8,262.8 149.2,258.8 149.7,262.5 150.1,261.8 150.5,258.0 151.0,262.5 151.4,257.0 151.8,260.1 152.3,253.8 152.7,260.5 153.1,262.6 153.6,259.3 154.0,253.3 154.4,258.2 154.9,257.8 155.3,266.3 155.7,255.7 156.2,261.0 156.6,260.0 157.0,260.7 157.5,255.0 157.9,257.1 158.3,258.4 158.8,259.4 159.2,259.5 159.6,262.1 160.1,257.0 160.5,258.5 160.9,261.5 161.4,254.8 161.8,256.8 162.2,260.4 162.7,258.5 163.1,256.5 163.5,255.0 164.0,259.1 164.4,259.0 164.8,255.5 165.3,255.0 165.7,255.1 166.1,255.6 166.5,253.7 167.0,255.7 167.4,255.1 167.8,255.2 168.3,254.3 168.7,253.0 169.1,256.6 169.6,256.3 170.0,254.2 170.4,253.7 170.9,252.3 171.3,252.7 171.7,253.3 172.2,249.2 172.6,251.8 173.0,252.3 173.5,252.5 173.9,251.7 174.3,253.3 174.8,250.6 175.2,251.8 175.6,274.4 176.1,250.7 176.5,252.7 176.9,248.2 177.4,251.6 177.8,247.9 178.2,248.4 178.7,247.9 179.1,247.9 179.5,248.5 180.0,247.4 180.4,245.5 180.8,246.6 181.3,245.1 181.7,246.9 182.1,245.3 182.6,243.9 183.0,244.0 183.4,245.5 183.9,245.9 184.3,245.3 184.7,243.3 185.2,242.9 185.6,240.6 186.0,243.6 186.4,241.0 186.9,243.7 187.3,240.5 187.7,243.1 188.2,239.5 188.6,239.2 189.0,239.7 189.5,239.2 189.9,240.4 190.3,240.2 190.8,241.6 191.2,269.5 191.6,238.0 192.1,238.9 192.5,240.2 192.9,237.9 193.4,279.6 193.8,238.2 194.2,282.5 194.7,240.5 195.1,237.0 195.5,238.5 196.0,371.0 196.4,238.1 196.8,356.2 197.3,239.2 197.7,238.2 198.1,240.1 198.6,237.4 199.0,238.8 199.4,238.1 199.9,238.8 200.3,373.9 200.7,237.5 201.2,239.0 201.6,238.7 202.0,237.7 202.5,237.8 202.9,238.2 203.3,237.8 203.8,236.4 204.2,237.5 204.6,236.6 205.1,237.8 205.5,236.3 205.9,236.3 206.3,237.4 206.8,235.4 207.2,235.4 207.6,238.0 208.1,236.0 208.5,237.2 208.9,236.2 209.4,237.1 209.8,235.4 210.2,235.3 210.7,235.0 211.1,235.0 211.5,235.1 212.0,235.6 212.4,235.4 212.8,234.9 213.3,236.1 213.7,234.5 214.1,234.8 214.6,234.0 215.0,234.7 215.4,234.2 215.9,264.0 216.3,330.9 216.7,355.3 217.2,336.9 217.6,294.0 218.0,257.2 218.5,236.2 218.9,232.0 219.3,233.2 219.8,232.0 220.2,232.6 220.6,231.6 221.1,231.2 221.5,230.8 221.9,231.1 222.4,230.9 222.8,230.3 223.2,230.9 223.7,230.6 224.1,233.3 224.5,240.9 225.0,248.6 225.4,256.3 225.8,260.8 226.2,254.5 226.7,245.0 227.1,235.4 227.5,230.6 228.0,229.0 228.4,229.1 228.8,229.4 229.3,229.2 229.7,228.7 230.1,228.5 230.6,229.0 231.0,228.7 231.4,228.9 231.9,228.9 232.3,228.9 232.7,228.3 233.2,229.0 233.6,228.8 234.0,229.0 234.5,229.0 234.9,228.1 235.3,228.7 235.8,228.1 236.2,228.3 236.6,228.0 237.1,228.3 237.5,227.9 237.9,227.9 238.4,227.1 238.8,227.8 239.2,228.0 239.7,227.5 240.1,227.5 240.5,227.2 241.0,227.8 241.4,227.9 241.8,227.1 242.3,227.4 242.7,227.2 243.1,227.2 243.6,227.2 244.0,227.1 244.4,227.4 244.9,227.0 245.3,227.3 245.7,227.3 246.1,227.5 246.6,227.5 247.0,227.5 247.4,227.1 247.9,226.9 248.3,227.3 248.7,227.5 249.2,226.9 249.6,227.3 250.0,227.2 250.5,227.1 250.9,226.9 251.3,227.2 251.8,226.9 252.2,227.0 252.6,227.5 253.1,227.1 253.5,226.8 253.9,227.0 254.4,227.1" stroke="#ff8214" stroke-width="0.85" fill="none" stroke-linejoin="round"/>
<polyline points="38.5,385.8 38.9,385.8 39.4,385.8 39.8,385.8 40.2,384.0 40.7,385.8 41.1,378.7 41.5,377.6 42.0,379.7 42.4,271.5 42.8,377.7 43.3,374.6 43.7,373.4 44.1,361.9 44.6,373.3 45.0,370.5 45.4,375.6 45.9,375.5 46.3,372.3 46.7,365.3 47.2,369.4 47.6,371.7 48.0,370.0 48.4,366.0 48.9,374.1 49.3,365.8 49.7,360.3 50.2,375.7 50.6,364.7 51.0,346.1 51.5,377.9 51.9,363.4 52.3,354.6 52.8,353.3 53.2,348.0 53.6,380.5 54.1,357.8 54.5,365.5 54.9,367.0 55.4,371.1 55.8,361.0 56.2,367.3 56.7,361.9 57.1,368.4 57.5,347.4 58.0,363.5 58.4,360.8 58.8,361.9 59.3,346.4 59.7,373.7 60.1,361.7 60.6,360.0 61.0,368.0 61.4,370.4 61.9,374.3 62.3,355.5 62.7,367.1 63.2,349.5 63.6,357.6 64.0,343.6 64.5,354.1 64.9,351.3 65.3,363.7 65.8,360.9 66.2,346.9 66.6,346.1 67.1,338.3 67.5,352.2 67.9,358.4 68.3,362.7 68.8,373.8 69.2,359.4 69.6,346.2 70.1,357.0 70.5,373.4 70.9,346.0 71.4,354.5 71.8,354.8 72.2,368.8 72.7,348.2 73.1,349.2 73.5,358.3 74.0,348.1 74.4,352.0 74.8,336.1 75.3,347.9 75.7,331.3 76.1,340.6 76.6,336.5 77.0,351.1 77.4,346.6 77.9,353.6 78.3,351.9 78.7,347.2 79.2,349.3 79.6,358.3 80.0,350.6 80.5,352.2 80.9,340.5 81.3,346.1 81.8,345.7 82.2,359.4 82.6,337.4 83.1,340.4 83.5,337.7 83.9,340.5 84.4,343.5 84.8,332.9 85.2,341.1 85.7,340.2 86.1,344.0 86.5,350.9 87.0,337.7 87.4,318.4 87.8,337.5 88.2,320.2 88.7,329.9 89.1,328.4 89.5,334.8 90.0,331.8 90.4,310.7 90.8,308.3 91.3,336.3 91.7,312.4 92.1,322.0 92.6,346.2 93.0,323.9 93.4,344.5 93.9,326.6 94.3,319.4 94.7,322.8 95.2,328.6 95.6,327.9 96.0,324.9 96.5,334.7 96.9,321.0 97.3,324.8 97.8,324.5 98.2,339.1 98.6,336.7 99.1,335.4 99.5,327.0 99.9,341.6 100.4,329.4 100.8,303.0 101.2,353.7 101.7,326.2 102.1,311.9 102.5,329.8 103.0,330.1 103.4,321.3 103.8,318.7 104.3,326.2 104.7,317.9 105.1,335.7 105.6,317.6 106.0,321.7 106.4,320.9 106.9,331.1 107.3,320.9 107.7,312.2 108.1,322.9 108.6,323.3 109.0,328.7 109.4,327.3 109.9,328.2 110.3,336.3 110.7,324.6 111.2,319.3 111.6,316.2 112.0,319.8 112.5,325.5 112.9,332.5 113.3,325.0 113.8,327.5 114.2,308.6 114.6,300.1 115.1,320.4 115.5,315.1 115.9,308.6 116.4,304.4 116.8,305.9 117.2,307.7 117.7,307.6 118.1,307.4 118.5,304.5 119.0,308.5 119.4,312.8 119.8,306.6 120.3,317.7 120.7,304.3 121.1,294.7 121.6,298.7 122.0,292.2 122.4,312.3 122.9,315.5 123.3,305.3 123.7,291.3 124.2,308.4 124.6,311.1 125.0,308.9 125.5,299.8 125.9,297.9 126.3,291.3 126.8,301.5 127.2,288.1 127.6,284.2 128.0,294.7 128.5,295.1 128.9,306.4 129.3,296.0 129.8,277.1 130.2,294.4 130.6,304.7 131.1,300.6 131.5,313.1 131.9,290.6 132.4,288.3 132.8,293.1 133.2,284.7 133.7,279.4 134.1,286.9 134.5,294.0 135.0,283.1 135.4,322.9 135.8,281.4 136.3,282.3 136.7,282.2 137.1,282.4 137.6,287.2 138.0,290.2 138.4,274.0 138.9,336.3 139.3,272.8 139.7,280.2 140.2,280.7 140.6,278.5 141.0,341.6 141.5,275.5 141.9,275.1 142.3,275.4 142.8,273.9 143.2,268.9 143.6,271.7 144.1,309.6 144.5,265.0 144.9,263.1 145.4,273.1 145.8,268.4 146.2,265.9 146.6,263.7 147.1,263.9 147.5,262.9 147.9,269.2 148.4,266.3 148.8,263.3 149.2,265.9 149.7,263.9 150.1,261.4 150.5,266.2 151.0,269.0 151.4,302.7 151.8,269.6 152.3,261.8 152.7,265.3 153.1,263.2 153.6,269.0 154.0,261.3 154.4,377.0 154.9,268.9 155.3,321.6 155.7,368.1 156.2,261.8 156.6,262.2 157.0,261.6 157.5,262.6 157.9,258.6 158.3,261.7 158.8,260.0 159.2,254.3 159.6,302.2 160.1,262.3 160.5,261.1 160.9,258.6 161.4,257.1 161.8,257.4 162.2,257.2 162.7,256.5 163.1,253.3 163.5,256.2 164.0,259.3 164.4,257.3 164.8,376.6 165.3,255.3 165.7,258.5 166.1,323.5 166.5,254.7 167.0,253.9 167.4,252.7 167.8,253.0 168.3,329.6 168.7,253.8 169.1,253.3 169.6,249.5 170.0,325.3 170.4,254.7 170.9,251.7 171.3,251.0 171.7,249.9 172.2,249.9 172.6,250.6 173.0,253.0 173.5,251.9 173.9,253.6 174.3,314.1 174.8,252.6 175.2,251.3 175.6,251.7 176.1,252.9 176.5,276.0 176.9,321.4 177.4,282.4 177.8,250.3 178.2,252.9 178.7,251.9 179.1,249.4 179.5,283.8 180.0,249.9 180.4,251.9 180.8,250.2 181.3,251.9 181.7,376.3 182.1,250.8 182.6,250.4 183.0,248.5 183.4,380.3 183.9,251.1 184.3,249.4 184.7,250.2 185.2,366.5 185.6,249.4 186.0,247.6 186.4,344.1 186.9,246.6 187.3,246.9 187.7,370.4 188.2,245.3 188.6,245.6 189.0,245.1 189.5,245.9 189.9,247.1 190.3,244.2 190.8,244.0 191.2,242.6 191.6,242.9 192.1,243.1 192.5,244.2 192.9,242.8 193.4,243.7 193.8,242.2 194.2,241.2 194.7,243.3 195.1,243.2 195.5,241.3 196.0,242.4 196.4,240.6 196.8,240.2 197.3,241.5 197.7,239.8 198.1,240.3 198.6,240.3 199.0,239.6 199.4,248.9 199.9,239.1 200.3,240.3 200.7,238.6 201.2,249.9 201.6,237.5 202.0,239.2 202.5,239.2 202.9,248.0 203.3,240.2 203.8,237.3 204.2,237.5 204.6,237.1 205.1,236.4 205.5,236.2 205.9,238.5 206.3,238.2 206.8,237.2 207.2,236.5 207.6,238.0 208.1,235.2 208.5,378.3 208.9,235.4 209.4,235.5 209.8,355.6 210.2,340.5 210.7,322.2 211.1,335.8 211.5,317.5 212.0,340.2 212.4,352.4 212.8,331.0 213.3,315.7 213.7,324.8 214.1,340.0 214.6,332.3 215.0,316.9 215.4,327.6 215.9,339.8 216.3,330.5 216.7,339.6 217.2,333.4 217.6,324.1 218.0,314.7 218.5,317.7 218.9,305.2 219.3,295.7 219.8,289.3 220.2,283.0 220.6,273.4 221.1,267.0 221.5,260.6 221.9,252.5 222.4,244.5 222.8,238.0 223.2,233.0 223.7,228.1 224.1,228.7 224.5,227.3 225.0,227.9 225.4,227.2 225.8,227.6 226.2,227.8 226.7,227.4 227.1,226.3 227.5,226.9 228.0,226.3 228.4,227.2 228.8,226.4 229.3,226.6 229.7,226.4 230.1,226.8 230.6,227.2 231.0,226.3 231.4,226.2 231.9,225.9 232.3,227.0 232.7,226.2 233.2,226.4 233.6,225.9 234.0,224.9 234.5,225.7 234.9,225.6 235.3,225.5 235.8,225.4 236.2,225.5 236.6,225.6 237.1,225.4 237.5,225.0 237.9,225.3 238.4,225.3 238.8,225.3 239.2,224.8 239.7,224.7 240.1,224.9 240.5,224.9 241.0,224.7 241.4,224.4 241.8,225.0 242.3,224.9 242.7,224.7 243.1,225.0 243.6,224.4 244.0,224.9 244.4,225.0 244.9,225.1 245.3,225.0 245.7,225.5 246.1,225.0 246.6,224.9 247.0,225.1 247.4,225.2 247.9,225.1 248.3,225.6 248.7,225.0 249.2,225.2 249.6,225.4 250.0,225.3 250.5,225.2 250.9,225.2 251.3,225.1 251.8,225.1 252.2,225.4 252.6,225.3 253.1,225.3 253.5,225.9 253.9,225.5 254.4,225.5" stroke="#2ca32c" stroke-width="0.85" fill="none" stroke-linejoin="round"/>
<polyline points="38.5,383.8 38.9,383.8 39.4,384.8 39.8,383.6 40.2,382.5 40.7,381.6 41.1,376.9 41.5,381.4 42.0,370.6 42.4,377.4 42.8,370.7 43.3,364.0 43.7,364.4 44.1,371.7 44.6,356.6 45.0,355.6 45.4,374.0 45.9,367.2 46.3,370.5 46.7,362.7 47.2,374.5 47.6,362.0 48.0,353.3 48.4,356.4 48.9,379.4 49.3,356.1 49.7,367.7 50.2,376.2 50.6,372.3 51.0,364.3 51.5,367.6 51.9,356.5 52.3,373.1 52.8,368.4 53.2,363.4 53.6,361.7 54.1,359.9 54.5,364.0 54.9,363.9 55.4,350.4 55.8,364.5 56.2,360.6 56.7,370.0 57.1,368.2 57.5,358.1 58.0,348.3 58.4,374.7 58.8,375.3 59.3,355.5 59.7,343.3 60.1,362.6 60.6,353.2 61.0,362.3 61.4,369.0 61.9,382.7 62.3,361.7 62.7,349.8 63.2,364.1 63.6,360.2 64.0,363.4 64.5,358.1 64.9,362.3 65.3,342.1 65.8,370.6 66.2,354.2 66.6,357.6 67.1,329.9 67.5,347.8 67.9,347.9 68.3,356.0 68.8,353.1 69.2,350.4 69.6,343.6 70.1,364.5 70.5,358.8 70.9,353.9 71.4,344.9 71.8,351.1 72.2,341.2 72.7,361.7 73.1,354.9 73.5,355.1 74.0,346.2 74.4,352.9 74.8,338.1 75.3,332.4 75.7,338.8 76.1,342.3 76.6,336.1 77.0,347.4 77.4,343.8 77.9,339.0 78.3,346.4 78.7,315.7 79.2,369.8 79.6,337.8 80.0,347.7 80.5,337.2 80.9,353.5 81.3,342.7 81.8,359.9 82.2,340.6 82.6,344.6 83.1,337.1 83.5,323.3 83.9,312.5 84.4,352.2 84.8,335.4 85.2,326.5 85.7,329.9 86.1,325.6 86.5,330.9 87.0,318.2 87.4,330.5 87.8,330.5 88.2,340.3 88.7,327.3 89.1,322.6 89.5,337.6 90.0,322.0 90.4,343.9 90.8,325.5 91.3,337.0 91.7,320.5 92.1,325.2 92.6,324.0 93.0,325.2 93.4,316.8 93.9,344.6 94.3,325.7 94.7,336.3 95.2,320.1 95.6,333.8 96.0,329.6 96.5,330.4 96.9,326.5 97.3,325.5 97.8,326.9 98.2,338.4 98.6,315.9 99.1,319.9 99.5,334.0 99.9,355.7 100.4,332.3 100.8,320.3 101.2,320.0 101.7,318.4 102.1,317.9 102.5,329.6 103.0,337.1 103.4,327.2 103.8,323.5 104.3,327.7 104.7,331.8 105.1,325.4 105.6,323.9 106.0,324.8 106.4,326.9 106.9,316.2 107.3,316.1 107.7,300.1 108.1,322.1 108.6,310.7 109.0,331.5 109.4,309.3 109.9,323.5 110.3,319.9 110.7,318.4 111.2,319.2 111.6,321.4 112.0,318.2 112.5,323.6 112.9,310.2 113.3,302.4 113.8,301.8 114.2,296.7 114.6,306.5 115.1,315.9 115.5,289.9 115.9,301.0 116.4,323.0 116.8,308.7 117.2,313.4 117.7,312.6 118.1,328.7 118.5,300.3 119.0,305.5 119.4,288.5 119.8,305.7 120.3,302.3 120.7,305.7 121.1,296.2 121.6,287.5 122.0,303.3 122.4,298.4 122.9,300.2 123.3,284.7 123.7,281.1 124.2,294.7 124.6,290.6 125.0,301.9 125.5,281.7 125.9,300.3 126.3,295.0 126.8,298.6 127.2,284.3 127.6,286.7 128.0,291.5 128.5,295.4 128.9,284.2 129.3,276.4 129.8,296.5 130.2,291.2 130.6,285.1 131.1,278.4 131.5,287.5 131.9,273.6 132.4,294.0 132.8,272.2 133.2,282.1 133.7,284.5 134.1,275.1 134.5,283.3 135.0,283.8 135.4,279.9 135.8,280.4 136.3,267.9 136.7,273.1 137.1,272.1 137.6,274.9 138.0,273.4 138.4,266.5 138.9,276.8 139.3,263.3 139.7,272.1 140.2,267.4 140.6,270.6 141.0,263.4 141.5,263.1 141.9,257.2 142.3,255.9 142.8,263.0 143.2,262.1 143.6,260.0 144.1,256.1 144.5,260.3 144.9,252.1 145.4,257.1 145.8,260.0 146.2,256.7 146.6,255.6 147.1,255.8 147.5,250.7 147.9,248.5 148.4,251.6 148.8,249.9 149.2,250.0 149.7,248.3 150.1,251.0 150.5,247.1 151.0,256.1 151.4,248.8 151.8,249.1 152.3,256.3 152.7,253.1 153.1,250.2 153.6,250.8 154.0,248.7 154.4,275.0 154.9,245.6 155.3,248.7 155.7,245.5 156.2,247.3 156.6,249.7 157.0,250.8 157.5,251.2 157.9,245.6 158.3,247.8 158.8,245.0 159.2,250.5 159.6,248.1 160.1,240.6 160.5,247.9 160.9,244.2 161.4,245.4 161.8,248.1 162.2,247.2 162.7,246.1 163.1,245.2 163.5,243.0 164.0,242.5 164.4,243.9 164.8,240.9 165.3,244.6 165.7,245.9 166.1,245.1 166.5,242.5 167.0,241.8 167.4,240.6 167.8,241.1 168.3,239.4 168.7,239.8 169.1,242.1 169.6,240.1 170.0,242.0 170.4,239.8 170.9,239.2 171.3,237.0 171.7,237.0 172.2,243.5 172.6,238.5 173.0,238.1 173.5,238.8 173.9,239.3 174.3,239.6 174.8,238.9 175.2,240.2 175.6,240.3 176.1,238.2 176.5,238.7 176.9,239.0 177.4,242.6 177.8,238.9 178.2,237.9 178.7,240.0 179.1,240.4 179.5,236.1 180.0,238.5 180.4,240.1 180.8,239.2 181.3,238.1 181.7,239.2 182.1,238.7 182.6,240.3 183.0,237.3 183.4,237.5 183.9,237.5 184.3,237.1 184.7,237.2 185.2,238.9 185.6,237.2 186.0,236.0 186.4,237.4 186.9,236.4 187.3,237.8 187.7,236.7 188.2,236.6 188.6,235.9 189.0,239.6 189.5,236.0 189.9,232.7 190.3,233.8 190.8,235.6 191.2,235.1 191.6,235.1 192.1,237.8 192.5,234.7 192.9,236.4 193.4,236.0 193.8,235.2 194.2,233.2 194.7,234.9 195.1,236.3 195.5,249.6 196.0,234.7 196.4,234.9 196.8,233.2 197.3,236.2 197.7,234.6 198.1,232.8 198.6,234.7 199.0,235.4 199.4,235.1 199.9,236.2 200.3,236.3 200.7,234.7 201.2,234.6 201.6,234.6 202.0,234.4 202.5,234.6 202.9,234.6 203.3,235.1 203.8,234.8 204.2,237.0 204.6,236.8 205.1,235.8 205.5,235.0 205.9,249.5 206.3,234.5 206.8,234.1 207.2,234.7 207.6,234.5 208.1,234.8 208.5,234.5 208.9,233.3 209.4,235.0 209.8,234.5 210.2,233.8 210.7,234.6 211.1,234.2 211.5,233.7 212.0,234.3 212.4,234.5 212.8,233.9 213.3,234.4 213.7,234.5 214.1,233.1 214.6,233.4 215.0,233.4 215.4,234.2 215.9,233.5 216.3,234.4 216.7,233.8 217.2,233.6 217.6,233.1 218.0,234.1 218.5,233.8 218.9,232.5 219.3,233.0 219.8,232.7 220.2,236.9 220.6,232.2 221.1,232.0 221.5,232.0 221.9,232.5 222.4,232.2 222.8,232.3 223.2,231.1 223.7,232.9 224.1,231.6 224.5,231.3 225.0,231.5 225.4,231.3 225.8,231.0 226.2,230.9 226.7,231.1 227.1,231.0 227.5,230.2 228.0,230.7 228.4,231.0 228.8,230.5 229.3,230.2 229.7,230.4 230.1,230.0 230.6,229.1 231.0,230.1 231.4,230.0 231.9,230.4 232.3,230.4 232.7,229.8 233.2,229.4 233.6,229.6 234.0,229.4 234.5,229.1 234.9,229.4 235.3,229.3 235.8,228.8 236.2,229.0 236.6,229.6 237.1,229.1 237.5,229.0 237.9,229.9 238.4,229.1 238.8,228.9 239.2,229.0 239.7,228.9 240.1,228.5 240.5,228.0 241.0,228.1 241.4,227.8 241.8,228.5 242.3,228.3 242.7,228.7 243.1,228.2 243.6,228.4 244.0,228.4 244.4,228.3 244.9,228.3 245.3,228.3 245.7,228.2 246.1,228.6 246.6,228.9 247.0,228.5 247.4,227.9 247.9,228.1 248.3,228.2 248.7,228.3 249.2,227.8 249.6,228.6 250.0,227.9 250.5,228.0 250.9,227.6 251.3,227.8 251.8,227.6 252.2,228.0 252.6,228.0 253.1,227.3 253.5,227.6 253.9,227.6 254.4,227.4" stroke="#e02a2a" stroke-width="0.85" fill="none" stroke-linejoin="round"/>
<rect x="27.8" y="217.3" width="237.60" height="176.40" fill="none" stroke="#5a5a5a" stroke-width="1"/>
<rect x="116.1" y="349.4" width="146.4" height="41.2" rx="1.5" fill="#fff" fill-opacity="0.8" stroke="#d4d4d4" stroke-width="0.8"/>
<line x1="118.7" y1="354.9" x2="133.0" y2="354.9" stroke="#1f7fc0" stroke-width="1.4" stroke-opacity="0.7"/>
<text x="137.6" y="357.40" class="lg">RT-DETR-l&#160;&#160;precision:0.781</text>
<line x1="118.7" y1="364.3" x2="133.0" y2="364.3" stroke="#ff8214" stroke-width="1.4" stroke-opacity="0.7"/>
<text x="137.6" y="366.80" class="lg">RT-DETR-x&#160;&#160;precision:0.788</text>
<line x1="118.7" y1="374.4" x2="133.0" y2="374.4" stroke="#2ca32c" stroke-width="1.4" stroke-opacity="0.7"/>
<text x="137.6" y="376.90" class="lg">RT-DETR-ResNet50&#160;&#160;precision:0.792</text>
<line x1="118.7" y1="384.1" x2="133.0" y2="384.1" stroke="#e02a2a" stroke-width="1.4" stroke-opacity="0.7"/>
<text x="137.6" y="386.60" class="lg">RT-DETR-ResNet101&#160;&#160;precision:0.781</text>
<line x1="318.20" y1="393.5" x2="318.20" y2="395.90" stroke="#5a5a5a" stroke-width="1"/>
<text x="318.20" y="403.50" text-anchor="middle" class="tk">0</text>
<line x1="361.46" y1="393.5" x2="361.46" y2="395.90" stroke="#5a5a5a" stroke-width="1"/>
<text x="361.46" y="403.50" text-anchor="middle" class="tk">100</text>
<line x1="404.72" y1="393.5" x2="404.72" y2="395.90" stroke="#5a5a5a" stroke-width="1"/>
<text x="404.72" y="403.50" text-anchor="middle" class="tk">200</text>
<line x1="447.98" y1="393.5" x2="447.98" y2="395.90" stroke="#5a5a5a" stroke-width="1"/>
<text x="447.98" y="403.50" text-anchor="middle" class="tk">300</text>
<line x1="491.24" y1="393.5" x2="491.24" y2="395.90" stroke="#5a5a5a" stroke-width="1"/>
<text x="491.24" y="403.50" text-anchor="middle" class="tk">400</text>
<line x1="534.50" y1="393.5" x2="534.50" y2="395.90" stroke="#5a5a5a" stroke-width="1"/>
<text x="534.50" y="403.50" text-anchor="middle" class="tk">500</text>
<line x1="304.90" y1="385.50" x2="307.3" y2="385.50" stroke="#5a5a5a" stroke-width="1"/>
<text x="303.10" y="388.00" text-anchor="end" class="tk">0.0</text>
<line x1="304.90" y1="365.20" x2="307.3" y2="365.20" stroke="#5a5a5a" stroke-width="1"/>
<text x="303.10" y="367.70" text-anchor="end" class="tk">0.1</text>
<line x1="304.90" y1="344.90" x2="307.3" y2="344.90" stroke="#5a5a5a" stroke-width="1"/>
<text x="303.10" y="347.40" text-anchor="end" class="tk">0.2</text>
<line x1="304.90" y1="324.60" x2="307.3" y2="324.60" stroke="#5a5a5a" stroke-width="1"/>
<text x="303.10" y="327.10" text-anchor="end" class="tk">0.3</text>
<line x1="304.90" y1="304.30" x2="307.3" y2="304.30" stroke="#5a5a5a" stroke-width="1"/>
<text x="303.10" y="306.80" text-anchor="end" class="tk">0.4</text>
<line x1="304.90" y1="284.00" x2="307.3" y2="284.00" stroke="#5a5a5a" stroke-width="1"/>
<text x="303.10" y="286.50" text-anchor="end" class="tk">0.5</text>
<line x1="304.90" y1="263.70" x2="307.3" y2="263.70" stroke="#5a5a5a" stroke-width="1"/>
<text x="303.10" y="266.20" text-anchor="end" class="tk">0.6</text>
<line x1="304.90" y1="243.40" x2="307.3" y2="243.40" stroke="#5a5a5a" stroke-width="1"/>
<text x="303.10" y="245.90" text-anchor="end" class="tk">0.7</text>
<line x1="304.90" y1="223.10" x2="307.3" y2="223.10" stroke="#5a5a5a" stroke-width="1"/>
<text x="303.10" y="225.60" text-anchor="end" class="tk">0.8</text>
<text x="426.45" y="412.30" text-anchor="middle" class="lb">Epochs</text>
<text x="288.70" y="305.60" text-anchor="middle" class="lb" transform="rotate(-90 288.70 305.60)">recall</text>
<polyline points="318.2,385.5 318.6,385.5 319.1,385.5 319.5,385.5 319.9,385.5 320.4,385.1 320.8,385.5 321.2,384.1 321.7,375.2 322.1,375.5 322.5,379.9 323.0,361.8 323.4,355.8 323.8,359.5 324.3,353.8 324.7,340.8 325.1,361.6 325.6,329.0 326.0,336.8 326.4,377.6 326.9,372.0 327.3,361.1 327.7,300.6 328.1,305.2 328.6,317.7 329.0,303.8 329.4,360.0 329.9,311.8 330.3,340.6 330.7,327.8 331.2,351.4 331.6,304.7 332.0,346.9 332.5,302.0 332.9,321.2 333.3,323.1 333.8,329.0 334.2,304.1 334.6,279.3 335.1,357.9 335.5,304.7 335.9,288.8 336.4,285.3 336.8,292.3 337.2,304.2 337.7,323.0 338.1,311.1 338.5,294.6 339.0,300.2 339.4,295.7 339.8,287.1 340.3,305.5 340.7,307.2 341.1,361.0 341.6,304.9 342.0,308.4 342.4,284.9 342.9,358.7 343.3,298.0 343.7,304.0 344.2,283.9 344.6,300.0 345.0,275.4 345.5,296.0 345.9,276.8 346.3,302.1 346.8,275.2 347.2,271.1 347.6,331.1 348.0,293.5 348.5,282.5 348.9,279.5 349.3,331.2 349.8,273.1 350.2,314.6 350.6,264.9 351.1,312.0 351.5,295.8 351.9,264.3 352.4,287.5 352.8,293.9 353.2,288.6 353.7,266.7 354.1,292.4 354.5,339.0 355.0,287.3 355.4,293.0 355.8,289.1 356.3,303.4 356.7,332.7 357.1,290.7 357.6,286.1 358.0,266.6 358.4,309.4 358.9,309.6 359.3,280.0 359.7,264.0 360.2,309.7 360.6,275.5 361.0,275.1 361.5,286.5 361.9,271.9 362.3,300.6 362.8,310.1 363.2,279.0 363.6,338.9 364.1,255.8 364.5,267.6 364.9,292.0 365.4,271.1 365.8,301.3 366.2,304.4 366.7,267.7 367.1,281.1 367.5,307.3 367.9,304.8 368.4,271.2 368.8,305.4 369.2,315.9 369.7,260.8 370.1,272.8 370.5,274.8 371.0,306.8 371.4,293.2 371.8,264.6 372.3,263.3 372.7,270.5 373.1,256.3 373.6,254.6 374.0,296.6 374.4,259.6 374.9,276.6 375.3,291.8 375.7,283.5 376.2,266.1 376.6,276.1 377.0,264.7 377.5,292.2 377.9,262.8 378.3,275.3 378.8,282.5 379.2,278.5 379.6,321.4 380.1,268.8 380.5,262.1 380.9,282.8 381.4,307.3 381.8,270.9 382.2,263.1 382.7,290.1 383.1,289.1 383.5,281.9 384.0,256.2 384.4,262.3 384.8,277.3 385.3,284.2 385.7,282.4 386.1,292.7 386.6,289.1 387.0,259.0 387.4,262.3 387.8,299.0 388.3,271.7 388.7,277.9 389.1,268.3 389.6,278.1 390.0,280.1 390.4,266.7 390.9,273.7 391.3,284.1 391.7,306.8 392.2,278.7 392.6,272.8 393.0,271.7 393.5,285.7 393.9,297.2 394.3,285.0 394.8,260.9 395.2,268.0 395.6,259.0 396.1,259.5 396.5,257.3 396.9,260.5 397.4,273.8 397.8,264.4 398.2,267.5 398.7,264.5 399.1,282.2 399.5,273.2 400.0,272.4 400.4,279.9 400.8,274.3 401.3,269.2 401.7,259.7 402.1,299.2 402.6,273.6 403.0,277.5 403.4,265.0 403.9,266.4 404.3,276.6 404.7,273.8 405.2,276.1 405.6,290.1 406.0,262.9 406.5,280.4 406.9,257.0 407.3,268.9 407.7,265.8 408.2,287.2 408.6,254.1 409.0,279.2 409.5,250.1 409.9,288.6 410.3,285.0 410.8,260.8 411.2,270.9 411.6,256.4 412.1,267.6 412.5,269.7 412.9,261.4 413.4,276.3 413.8,265.5 414.2,275.1 414.7,274.1 415.1,257.1 415.5,267.2 416.0,251.4 416.4,254.7 416.8,265.3 417.3,260.4 417.7,269.6 418.1,264.9 418.6,265.8 419.0,270.5 419.4,265.4 419.9,280.3 420.3,270.4 420.7,260.5 421.2,273.1 421.6,254.6 422.0,262.3 422.5,273.3 422.9,271.0 423.3,259.6 423.8,276.5 424.2,276.9 424.6,275.4 425.1,253.7 425.5,252.9 425.9,260.8 426.3,260.5 426.8,257.3 427.2,249.4 427.6,247.6 428.1,257.3 428.5,252.0 428.9,258.9 429.4,250.5 429.8,249.7 430.2,255.5 430.7,249.8 431.1,241.2 431.5,242.0 432.0,243.7 432.4,244.0 432.8,260.3 433.3,245.0 433.7,250.8 434.1,239.2 434.6,238.0 435.0,251.8 435.4,263.3 435.9,246.8 436.3,242.5 436.7,243.1 437.2,248.7 437.6,239.8 438.0,244.1 438.5,253.5 438.9,251.7 439.3,250.1 439.8,236.7 440.2,239.3 440.6,241.7 441.1,235.7 441.5,254.2 441.9,242.6 442.4,246.4 442.8,239.4 443.2,246.3 443.7,240.2 444.1,239.5 444.5,237.0 445.0,245.7 445.4,238.5 445.8,241.9 446.2,242.2 446.7,239.5 447.1,244.7 447.5,236.9 448.0,241.8 448.4,236.2 448.8,247.7 449.3,239.4 449.7,238.0 450.1,244.3 450.6,243.9 451.0,235.0 451.4,235.5 451.9,243.3 452.3,235.0 452.7,239.5 453.2,237.7 453.6,236.7 454.0,241.9 454.5,233.5 454.9,237.7 455.3,238.3 455.8,234.6 456.2,238.3 456.6,236.1 457.1,238.7 457.5,236.7 457.9,238.6 458.4,231.7 458.8,234.9 459.2,239.3 459.7,236.9 460.1,239.9 460.5,235.4 461.0,240.3 461.4,234.5 461.8,234.5 462.3,235.4 462.7,232.4 463.1,236.9 463.6,231.9 464.0,231.9 464.4,234.6 464.9,233.4 465.3,235.7 465.7,237.2 466.1,235.6 466.6,233.7 467.0,237.4 467.4,232.0 467.9,231.6 468.3,233.2 468.7,235.5 469.2,233.7 469.6,233.1 470.0,235.7 470.5,236.6 470.9,233.9 471.3,234.1 471.8,232.6 472.2,229.5 472.6,233.7 473.1,231.6 473.5,232.5 473.9,231.8 474.4,231.3 474.8,232.3 475.2,231.9 475.7,231.9 476.1,230.8 476.5,230.9 477.0,230.4 477.4,230.2 477.8,230.5 478.3,230.4 478.7,230.4 479.1,230.3 479.6,230.7 480.0,231.7 480.4,232.2 480.9,229.9 481.3,232.0 481.7,230.5 482.2,230.8 482.6,230.3 483.0,229.9 483.5,230.9 483.9,231.4 484.3,230.8 484.8,231.4 485.2,229.9 485.6,232.8 486.0,230.4 486.5,232.8 486.9,231.4 487.3,230.7 487.8,230.0 488.2,231.0 488.6,232.5 489.1,230.8 489.5,232.1 489.9,231.3 490.4,230.2 490.8,230.1 491.2,230.8 491.7,231.6 492.1,231.1 492.5,230.3 493.0,230.0 493.4,232.5 493.8,232.4 494.3,229.8 494.7,234.0 495.1,229.5 495.6,229.8 496.0,231.7 496.4,231.0 496.9,229.3 497.3,230.8 497.7,229.9 498.2,231.5 498.6,229.7 499.0,228.8 499.5,229.3 499.9,228.9 500.3,229.8 500.8,231.0 501.2,231.6 501.6,229.6 502.1,230.2 502.5,229.9 502.9,229.0 503.4,228.7 503.8,228.3 504.2,228.6 504.7,228.8 505.1,228.1 505.5,229.2 505.9,228.6 506.4,228.0 506.8,228.4 507.2,229.6 507.7,229.5 508.1,228.7 508.5,227.9 509.0,227.7 509.4,227.8 509.8,228.4 510.3,228.3 510.7,228.0 511.1,227.3 511.6,228.9 512.0,227.0 512.4,227.3 512.9,227.3 513.3,226.9 513.7,227.0 514.2,227.6 514.6,227.1 515.0,228.4 515.5,227.2 515.9,228.4 516.3,227.5 516.8,227.1 517.2,226.8 517.6,227.7 518.1,227.0 518.5,226.4 518.9,226.8 519.4,226.5 519.8,226.8 520.2,227.0 520.7,227.1 521.1,226.9 521.5,226.8 522.0,227.3 522.4,226.2 522.8,227.2 523.3,227.0 523.7,227.0 524.1,227.2 524.6,226.7 525.0,226.9 525.4,226.6 525.8,226.9 526.3,227.3 526.7,227.0 527.1,227.6 527.6,227.1 528.0,226.9 528.4,227.1 528.9,226.7 529.3,227.0 529.7,227.1 530.2,227.4 530.6,227.2 531.0,226.7 531.5,227.6 531.9,227.3 532.3,227.2 532.8,227.2 533.2,227.2 533.6,228.2 534.1,227.5" stroke="#1f7fc0" stroke-width="0.85" fill="none" stroke-linejoin="round"/>
<polyline points="318.2,385.5 318.6,385.5 319.1,385.5 319.5,385.5 319.9,385.5 320.4,385.5 320.8,385.5 321.2,385.5 321.7,385.5 322.1,372.3 322.5,370.2 323.0,356.6 323.4,339.3 323.8,353.0 324.3,347.4 324.7,323.2 325.1,344.5 325.6,313.3 326.0,323.9 326.4,338.6 326.9,305.3 327.3,316.9 327.7,303.0 328.1,305.2 328.6,360.0 329.0,304.6 329.4,348.1 329.9,368.9 330.3,353.4 330.7,312.0 331.2,340.4 331.6,310.2 332.0,321.2 332.5,355.4 332.9,336.8 333.3,287.3 333.8,341.0 334.2,295.1 334.6,292.4 335.1,320.8 335.5,299.0 335.9,335.6 336.4,322.3 336.8,290.6 337.2,346.5 337.7,310.4 338.1,274.8 338.5,299.6 339.0,310.9 339.4,297.0 339.8,295.7 340.3,300.1 340.7,301.4 341.1,321.1 341.6,304.1 342.0,299.9 342.4,309.4 342.9,314.4 343.3,302.5 343.7,298.7 344.2,329.1 344.6,276.7 345.0,324.7 345.5,288.3 345.9,284.0 346.3,328.1 346.8,278.2 347.2,309.9 347.6,276.6 348.0,280.6 348.5,316.4 348.9,276.8 349.3,304.6 349.8,272.3 350.2,285.6 350.6,277.7 351.1,309.4 351.5,326.4 351.9,318.1 352.4,263.6 352.8,344.3 353.2,297.9 353.7,290.6 354.1,280.8 354.5,265.4 355.0,266.2 355.4,307.0 355.8,337.0 356.3,314.7 356.7,279.1 357.1,282.8 357.6,288.1 358.0,259.8 358.4,273.5 358.9,272.9 359.3,275.3 359.7,263.6 360.2,336.9 360.6,281.3 361.0,325.2 361.5,278.4 361.9,311.3 362.3,288.9 362.8,288.7 363.2,336.9 363.6,260.0 364.1,271.1 364.5,274.2 364.9,281.3 365.4,286.0 365.8,275.1 366.2,309.8 366.7,332.3 367.1,290.7 367.5,262.6 367.9,280.2 368.4,261.0 368.8,284.4 369.2,259.4 369.7,274.9 370.1,296.7 370.5,284.5 371.0,286.4 371.4,288.6 371.8,262.7 372.3,264.4 372.7,281.5 373.1,261.7 373.6,268.2 374.0,302.3 374.4,267.3 374.9,276.4 375.3,260.9 375.7,282.3 376.2,291.3 376.6,310.5 377.0,290.1 377.5,256.7 377.9,289.2 378.3,281.4 378.8,290.5 379.2,266.0 379.6,275.7 380.1,297.7 380.5,274.9 380.9,291.6 381.4,258.0 381.8,272.5 382.2,290.6 382.7,269.6 383.1,263.7 383.5,275.8 384.0,270.4 384.4,278.3 384.8,346.8 385.3,289.4 385.7,297.1 386.1,259.1 386.6,306.0 387.0,306.6 387.4,308.7 387.8,289.9 388.3,264.1 388.7,267.6 389.1,264.9 389.6,270.2 390.0,268.8 390.4,293.3 390.9,270.9 391.3,265.2 391.7,276.0 392.2,300.9 392.6,259.1 393.0,309.0 393.5,274.4 393.9,275.6 394.3,276.4 394.8,291.2 395.2,320.5 395.6,255.6 396.1,294.7 396.5,291.1 396.9,263.9 397.4,270.7 397.8,265.1 398.2,266.5 398.7,291.3 399.1,290.5 399.5,273.3 400.0,278.6 400.4,265.7 400.8,265.7 401.3,304.8 401.7,256.6 402.1,298.2 402.6,257.5 403.0,297.7 403.4,286.2 403.9,260.8 404.3,295.3 404.7,260.4 405.2,284.6 405.6,302.0 406.0,260.4 406.5,263.2 406.9,286.9 407.3,261.0 407.7,263.4 408.2,299.9 408.6,281.0 409.0,282.4 409.5,284.1 409.9,269.7 410.3,259.4 410.8,263.7 411.2,271.5 411.6,267.9 412.1,259.7 412.5,271.7 412.9,250.4 413.4,267.3 413.8,283.9 414.2,275.5 414.7,282.5 415.1,284.8 415.5,256.4 416.0,257.7 416.4,254.8 416.8,261.4 417.3,304.0 417.7,318.1 418.1,258.1 418.6,255.7 419.0,255.2 419.4,259.9 419.9,254.2 420.3,269.0 420.7,256.6 421.2,256.4 421.6,260.2 422.0,256.3 422.5,258.1 422.9,245.5 423.3,286.1 423.8,265.9 424.2,256.7 424.6,267.9 425.1,279.0 425.5,255.1 425.9,250.5 426.3,253.1 426.8,252.2 427.2,250.7 427.6,264.2 428.1,322.0 428.5,259.2 428.9,261.4 429.4,255.6 429.8,255.9 430.2,245.9 430.7,256.2 431.1,253.0 431.5,245.9 432.0,252.2 432.4,245.8 432.8,245.4 433.3,250.4 433.7,257.8 434.1,253.7 434.6,243.6 435.0,251.4 435.4,261.4 435.9,246.5 436.3,246.7 436.7,252.3 437.2,244.3 437.6,247.6 438.0,250.1 438.5,240.9 438.9,251.7 439.3,242.5 439.8,237.7 440.2,246.1 440.6,248.4 441.1,249.0 441.5,239.3 441.9,253.5 442.4,240.9 442.8,242.9 443.2,239.8 443.7,281.3 444.1,245.2 444.5,241.5 445.0,251.7 445.4,236.2 445.8,241.9 446.2,236.8 446.7,241.8 447.1,241.3 447.5,239.5 448.0,235.6 448.4,239.0 448.8,234.8 449.3,237.9 449.7,241.0 450.1,243.5 450.6,237.3 451.0,235.7 451.4,244.6 451.9,236.6 452.3,237.5 452.7,233.8 453.2,236.5 453.6,235.5 454.0,233.3 454.5,294.3 454.9,235.4 455.3,236.6 455.8,235.8 456.2,239.6 456.6,232.7 457.1,235.8 457.5,237.5 457.9,238.1 458.4,243.0 458.8,233.4 459.2,233.4 459.7,236.0 460.1,233.0 460.5,233.4 461.0,237.7 461.4,234.9 461.8,234.3 462.3,233.9 462.7,234.2 463.1,234.3 463.6,236.7 464.0,233.2 464.4,233.3 464.9,234.7 465.3,233.1 465.7,231.4 466.1,233.4 466.6,235.4 467.0,233.1 467.4,231.9 467.9,233.3 468.3,231.9 468.7,234.9 469.2,231.2 469.6,237.1 470.0,231.2 470.5,231.9 470.9,283.6 471.3,235.2 471.8,231.8 472.2,231.6 472.6,235.0 473.1,233.2 473.5,231.1 473.9,231.8 474.4,232.5 474.8,233.9 475.2,323.5 475.7,232.7 476.1,233.2 476.5,234.3 477.0,233.9 477.4,236.0 477.8,232.5 478.3,231.8 478.7,231.6 479.1,232.2 479.6,357.5 480.0,232.0 480.4,229.6 480.9,354.4 481.3,229.7 481.7,234.0 482.2,315.5 482.6,232.5 483.0,232.5 483.5,231.7 483.9,360.6 484.3,231.4 484.8,231.2 485.2,230.9 485.6,230.7 486.0,230.8 486.5,230.3 486.9,231.7 487.3,230.1 487.8,231.8 488.2,230.2 488.6,230.9 489.1,229.8 489.5,232.4 489.9,229.9 490.4,229.9 490.8,229.8 491.2,230.2 491.7,229.4 492.1,229.5 492.5,230.9 493.0,230.2 493.4,231.1 493.8,231.6 494.3,229.6 494.7,230.2 495.1,229.3 495.6,256.6 496.0,316.7 496.4,338.6 496.9,322.2 497.3,283.8 497.7,250.9 498.2,232.3 498.6,229.5 499.0,230.0 499.5,228.5 499.9,229.8 500.3,230.2 500.8,228.8 501.2,229.3 501.6,228.8 502.1,229.0 502.5,229.2 502.9,228.9 503.4,228.0 503.8,231.9 504.2,240.9 504.7,249.9 505.1,258.9 505.5,264.3 505.9,257.0 506.4,246.1 506.8,235.2 507.2,229.7 507.7,228.9 508.1,227.7 508.5,227.9 509.0,227.5 509.4,227.5 509.8,229.3 510.3,228.4 510.7,228.4 511.1,227.7 511.6,227.8 512.0,228.1 512.4,228.2 512.9,228.1 513.3,227.8 513.7,226.7 514.2,227.2 514.6,227.2 515.0,226.7 515.5,227.8 515.9,227.0 516.3,226.8 516.8,227.4 517.2,227.2 517.6,227.2 518.1,227.3 518.5,227.0 518.9,227.4 519.4,226.8 519.8,227.9 520.2,226.9 520.7,227.9 521.1,227.3 521.5,228.5 522.0,227.5 522.4,228.1 522.8,226.7 523.3,227.1 523.7,227.4 524.1,227.2 524.6,226.9 525.0,227.0 525.4,227.3 525.8,226.7 526.3,227.3 526.7,227.8 527.1,227.5 527.6,227.0 528.0,228.1 528.4,227.4 528.9,227.2 529.3,227.5 529.7,227.7 530.2,227.8 530.6,228.0 531.0,227.6 531.5,227.5 531.9,227.5 532.3,227.6 532.8,227.8 533.2,227.8 533.6,227.7 534.1,228.0" stroke="#ff8214" stroke-width="0.85" fill="none" stroke-linejoin="round"/>
<polyline points="318.2,385.5 318.6,385.5 319.1,384.4 319.5,385.5 319.9,385.5 320.4,380.9 320.8,385.5 321.2,385.5 321.7,373.4 322.1,375.9 322.5,365.4 323.0,356.1 323.4,352.3 323.8,365.0 324.3,366.8 324.7,345.2 325.1,385.5 325.6,318.3 326.0,307.0 326.4,344.4 326.9,322.0 327.3,304.0 327.7,346.8 328.1,353.3 328.6,308.9 329.0,339.4 329.4,313.8 329.9,367.4 330.3,324.4 330.7,312.1 331.2,295.7 331.6,303.3 332.0,373.8 332.5,335.6 332.9,303.8 333.3,340.8 333.8,313.9 334.2,293.6 334.6,303.4 335.1,317.4 335.5,351.9 335.9,346.8 336.4,323.9 336.8,354.6 337.2,296.7 337.7,289.8 338.1,297.1 338.5,339.1 339.0,314.6 339.4,300.4 339.8,285.2 340.3,317.5 340.7,274.2 341.1,322.5 341.6,292.6 342.0,274.3 342.4,291.1 342.9,278.1 343.3,280.9 343.7,289.9 344.2,301.8 344.6,307.1 345.0,302.8 345.5,297.9 345.9,285.7 346.3,278.9 346.8,277.8 347.2,270.4 347.6,338.4 348.0,341.9 348.5,296.9 348.9,274.4 349.3,312.0 349.8,314.7 350.2,275.1 350.6,329.6 351.1,293.1 351.5,274.5 351.9,305.2 352.4,280.7 352.8,309.6 353.2,268.9 353.7,270.1 354.1,287.1 354.5,275.5 355.0,285.4 355.4,262.9 355.8,280.9 356.3,297.2 356.7,279.5 357.1,275.4 357.6,288.4 358.0,305.5 358.4,258.6 358.9,281.0 359.3,275.4 359.7,315.4 360.2,267.7 360.6,290.9 361.0,293.7 361.5,305.2 361.9,265.0 362.3,317.8 362.8,314.1 363.2,264.7 363.6,267.9 364.1,285.1 364.5,272.3 364.9,300.7 365.4,263.8 365.8,272.6 366.2,306.1 366.7,272.6 367.1,286.3 367.5,271.1 367.9,295.0 368.4,269.6 368.8,273.3 369.2,276.0 369.7,272.9 370.1,270.0 370.5,304.2 371.0,270.7 371.4,257.9 371.8,283.0 372.3,300.2 372.7,265.9 373.1,304.4 373.6,314.4 374.0,306.2 374.4,258.8 374.9,302.2 375.3,249.5 375.7,272.8 376.2,280.3 376.6,271.5 377.0,308.9 377.5,267.3 377.9,290.5 378.3,318.2 378.8,269.6 379.2,268.8 379.6,327.4 380.1,264.0 380.5,280.7 380.9,265.5 381.4,261.1 381.8,286.4 382.2,299.9 382.7,267.9 383.1,267.8 383.5,264.4 384.0,264.6 384.4,263.5 384.8,287.7 385.3,275.4 385.7,272.9 386.1,261.6 386.6,273.5 387.0,261.1 387.4,295.1 387.8,265.1 388.3,264.8 388.7,263.0 389.1,275.5 389.6,296.2 390.0,324.4 390.4,257.9 390.9,263.2 391.3,269.8 391.7,315.5 392.2,279.7 392.6,260.4 393.0,272.7 393.5,266.6 393.9,278.8 394.3,292.0 394.8,271.1 395.2,260.8 395.6,272.8 396.1,259.9 396.5,279.6 396.9,301.7 397.4,271.6 397.8,269.1 398.2,265.9 398.7,256.6 399.1,299.0 399.5,260.7 400.0,300.1 400.4,262.0 400.8,259.6 401.3,257.5 401.7,265.5 402.1,253.8 402.6,254.2 403.0,272.4 403.4,261.2 403.9,261.0 404.3,258.9 404.7,316.6 405.2,267.6 405.6,286.9 406.0,266.3 406.5,304.1 406.9,297.6 407.3,277.1 407.7,262.5 408.2,253.6 408.6,274.5 409.0,274.5 409.5,253.6 409.9,261.4 410.3,256.4 410.8,265.5 411.2,287.3 411.6,286.0 412.1,262.1 412.5,274.8 412.9,265.0 413.4,259.1 413.8,275.8 414.2,263.3 414.7,252.7 415.1,299.8 415.5,277.8 416.0,303.8 416.4,261.9 416.8,269.2 417.3,285.0 417.7,263.4 418.1,319.3 418.6,252.8 419.0,257.2 419.4,286.3 419.9,277.2 420.3,259.6 420.7,325.6 421.2,283.3 421.6,255.7 422.0,255.0 422.5,255.6 422.9,263.3 423.3,254.8 423.8,290.9 424.2,266.1 424.6,261.9 425.1,268.5 425.5,313.4 425.9,262.0 426.3,270.4 426.8,320.1 427.2,254.8 427.6,257.9 428.1,248.5 428.5,250.8 428.9,256.7 429.4,248.3 429.8,245.5 430.2,269.2 430.7,301.3 431.1,254.5 431.5,254.3 432.0,248.3 432.4,246.5 432.8,256.4 433.3,243.9 433.7,245.2 434.1,250.4 434.6,354.3 435.0,252.0 435.4,259.9 435.9,328.5 436.3,258.5 436.7,251.1 437.2,250.9 437.6,257.3 438.0,255.0 438.5,247.7 438.9,247.2 439.3,292.0 439.8,248.5 440.2,252.2 440.6,247.5 441.1,248.9 441.5,250.3 441.9,242.9 442.4,244.2 442.8,288.0 443.2,244.1 443.7,246.5 444.1,341.8 444.5,250.3 445.0,245.2 445.4,243.0 445.8,304.9 446.2,240.9 446.7,244.6 447.1,247.4 447.5,242.3 448.0,240.5 448.4,329.4 448.8,241.0 449.3,237.0 449.7,245.7 450.1,311.6 450.6,316.7 451.0,241.9 451.4,239.6 451.9,238.5 452.3,240.3 452.7,239.5 453.2,247.0 453.6,318.8 454.0,239.9 454.5,281.7 454.9,242.7 455.3,243.2 455.8,244.7 456.2,239.3 456.6,242.5 457.1,237.4 457.5,238.6 457.9,236.7 458.4,240.4 458.8,237.8 459.2,242.5 459.7,239.3 460.1,295.0 460.5,242.0 461.0,239.4 461.4,235.9 461.8,370.6 462.3,239.6 462.7,239.6 463.1,242.4 463.6,340.7 464.0,302.5 464.4,238.6 464.9,237.3 465.3,346.6 465.7,300.7 466.1,239.5 466.6,236.0 467.0,325.5 467.4,302.3 467.9,241.0 468.3,236.1 468.7,235.2 469.2,235.1 469.6,238.7 470.0,234.6 470.5,236.4 470.9,234.7 471.3,235.7 471.8,238.1 472.2,234.3 472.6,236.8 473.1,235.9 473.5,234.4 473.9,236.6 474.4,233.3 474.8,234.7 475.2,233.5 475.7,234.2 476.1,237.3 476.5,232.4 477.0,234.0 477.4,233.2 477.8,232.7 478.3,233.1 478.7,236.1 479.1,242.9 479.6,233.6 480.0,233.1 480.4,231.4 480.9,244.1 481.3,234.0 481.7,234.1 482.2,233.1 482.6,242.3 483.0,231.8 483.5,231.9 483.9,233.5 484.3,230.3 484.8,233.0 485.2,232.8 485.6,235.0 486.0,230.8 486.5,232.7 486.9,231.3 487.3,232.9 487.8,232.0 488.2,354.5 488.6,232.9 489.1,233.0 489.5,350.7 489.9,335.6 490.4,317.5 490.8,331.0 491.2,312.8 491.7,335.5 492.1,347.5 492.5,326.3 493.0,311.2 493.4,320.2 493.8,335.3 494.3,327.7 494.7,312.5 495.1,323.1 495.6,335.2 496.0,326.1 496.4,335.2 496.9,329.0 497.3,319.9 497.7,310.7 498.2,313.7 498.6,301.4 499.0,292.2 499.5,286.0 499.9,279.8 500.3,270.5 500.8,264.3 501.2,258.1 501.6,250.3 502.1,242.6 502.5,236.3 502.9,231.6 503.4,227.3 503.8,228.0 504.2,226.9 504.7,227.4 505.1,228.8 505.5,227.5 505.9,226.1 506.4,228.5 506.8,226.9 507.2,226.4 507.7,225.6 508.1,226.3 508.5,226.1 509.0,227.4 509.4,226.0 509.8,226.4 510.3,226.1 510.7,226.2 511.1,225.8 511.6,226.8 512.0,225.4 512.4,225.9 512.9,226.1 513.3,225.6 513.7,226.4 514.2,225.3 514.6,226.0 515.0,226.2 515.5,225.5 515.9,225.6 516.3,225.2 516.8,226.1 517.2,225.0 517.6,224.7 518.1,226.4 518.5,225.0 518.9,225.0 519.4,225.6 519.8,225.0 520.2,224.9 520.7,225.7 521.1,225.6 521.5,225.3 522.0,226.1 522.4,225.8 522.8,225.2 523.3,225.7 523.7,225.8 524.1,225.8 524.6,225.1 525.0,225.4 525.4,225.6 525.8,225.6 526.3,225.1 526.7,226.4 527.1,225.7 527.6,225.7 528.0,226.1 528.4,226.0 528.9,225.9 529.3,226.0 529.7,226.0 530.2,226.2 530.6,226.3 531.0,226.4 531.5,225.8 531.9,226.8 532.3,226.3 532.8,226.9 533.2,226.5 533.6,225.8 534.1,226.0" stroke="#2ca32c" stroke-width="0.85" fill="none" stroke-linejoin="round"/>
<polyline points="318.2,385.5 318.6,385.5 319.1,382.7 319.5,385.5 319.9,382.2 320.4,383.2 320.8,383.2 321.2,385.5 321.7,384.6 322.1,371.8 322.5,375.5 323.0,361.7 323.4,349.3 323.8,382.2 324.3,340.1 324.7,338.5 325.1,319.9 325.6,343.1 326.0,308.6 326.4,314.3 326.9,324.5 327.3,314.5 327.7,366.9 328.1,319.0 328.6,342.4 329.0,321.2 329.4,365.5 329.9,304.6 330.3,361.3 330.7,291.2 331.2,308.2 331.6,315.7 332.0,339.4 332.5,313.1 332.9,355.8 333.3,304.5 333.8,293.4 334.2,299.2 334.6,302.6 335.1,372.0 335.5,287.4 335.9,303.1 336.4,305.2 336.8,299.9 337.2,290.4 337.7,282.5 338.1,339.6 338.5,344.3 339.0,318.0 339.4,325.3 339.8,301.1 340.3,330.4 340.7,303.6 341.1,364.0 341.6,337.5 342.0,328.4 342.4,274.4 342.9,289.0 343.3,345.2 343.7,303.6 344.2,286.6 344.6,284.5 345.0,299.9 345.5,267.9 345.9,343.6 346.3,295.1 346.8,280.8 347.2,302.9 347.6,350.3 348.0,271.1 348.5,282.5 348.9,289.9 349.3,273.3 349.8,287.6 350.2,298.4 350.6,275.5 351.1,280.3 351.5,302.1 351.9,286.3 352.4,269.8 352.8,279.6 353.2,316.7 353.7,307.3 354.1,270.9 354.5,269.5 355.0,297.9 355.4,272.6 355.8,301.7 356.3,276.9 356.7,272.2 357.1,276.5 357.6,309.9 358.0,288.6 358.4,336.3 358.9,304.3 359.3,313.6 359.7,297.0 360.2,261.4 360.6,262.7 361.0,336.2 361.5,262.3 361.9,258.0 362.3,281.2 362.8,270.5 363.2,323.9 363.6,309.5 364.1,273.6 364.5,320.0 364.9,342.0 365.4,298.1 365.8,321.9 366.2,275.7 366.7,264.5 367.1,288.4 367.5,280.7 367.9,292.8 368.4,272.0 368.8,282.6 369.2,294.1 369.7,285.8 370.1,277.9 370.5,299.3 371.0,266.7 371.4,278.2 371.8,297.5 372.3,263.9 372.7,278.8 373.1,275.2 373.6,256.4 374.0,302.1 374.4,282.5 374.9,261.9 375.3,259.6 375.7,263.2 376.2,291.9 376.6,295.1 377.0,297.7 377.5,266.4 377.9,284.6 378.3,275.7 378.8,279.1 379.2,270.3 379.6,261.9 380.1,306.0 380.5,284.6 380.9,268.4 381.4,274.2 381.8,270.3 382.2,263.8 382.7,269.4 383.1,291.3 383.5,285.2 384.0,275.1 384.4,298.5 384.8,262.7 385.3,255.8 385.7,268.6 386.1,267.4 386.6,264.2 387.0,270.1 387.4,276.9 387.8,294.9 388.3,268.5 388.7,302.6 389.1,260.6 389.6,281.8 390.0,306.7 390.4,289.3 390.9,284.5 391.3,289.4 391.7,307.8 392.2,275.4 392.6,291.0 393.0,296.0 393.5,317.3 393.9,309.3 394.3,259.7 394.8,256.5 395.2,270.6 395.6,293.3 396.1,285.4 396.5,257.1 396.9,290.0 397.4,261.0 397.8,272.5 398.2,270.9 398.7,262.2 399.1,263.8 399.5,265.4 400.0,264.4 400.4,257.6 400.8,262.9 401.3,256.3 401.7,254.5 402.1,290.8 402.6,282.5 403.0,290.7 403.4,266.0 403.9,287.3 404.3,273.3 404.7,273.4 405.2,263.3 405.6,276.8 406.0,264.4 406.5,278.2 406.9,291.3 407.3,271.8 407.7,284.6 408.2,271.4 408.6,282.5 409.0,259.5 409.5,282.7 409.9,268.2 410.3,263.9 410.8,270.1 411.2,288.2 411.6,296.4 412.1,287.9 412.5,274.9 412.9,275.2 413.4,266.8 413.8,257.0 414.2,258.7 414.7,276.1 415.1,279.5 415.5,261.9 416.0,259.2 416.4,279.2 416.8,270.4 417.3,261.8 417.7,275.1 418.1,280.6 418.6,269.4 419.0,253.6 419.4,256.8 419.9,281.0 420.3,258.6 420.7,281.2 421.2,257.6 421.6,286.0 422.0,252.6 422.5,253.0 422.9,255.1 423.3,259.9 423.8,247.8 424.2,262.7 424.6,262.1 425.1,252.6 425.5,259.3 425.9,268.7 426.3,252.0 426.8,255.6 427.2,256.3 427.6,250.6 428.1,248.8 428.5,255.4 428.9,252.4 429.4,247.8 429.8,258.6 430.2,267.5 430.7,248.9 431.1,260.4 431.5,266.2 432.0,254.3 432.4,242.5 432.8,246.2 433.3,252.6 433.7,243.9 434.1,277.0 434.6,240.6 435.0,240.9 435.4,245.5 435.9,240.1 436.3,245.8 436.7,249.7 437.2,251.4 437.6,257.9 438.0,250.5 438.5,244.1 438.9,240.5 439.3,247.8 439.8,239.7 440.2,242.5 440.6,251.1 441.1,244.1 441.5,242.8 441.9,239.7 442.4,251.8 442.8,243.0 443.2,241.8 443.7,236.4 444.1,243.1 444.5,241.1 445.0,240.5 445.4,248.1 445.8,239.7 446.2,237.8 446.7,237.6 447.1,234.9 447.5,239.4 448.0,239.6 448.4,236.2 448.8,239.9 449.3,244.3 449.7,235.8 450.1,240.3 450.6,236.5 451.0,242.3 451.4,241.0 451.9,239.3 452.3,239.0 452.7,237.4 453.2,238.7 453.6,235.3 454.0,236.7 454.5,234.2 454.9,235.4 455.3,235.3 455.8,235.9 456.2,237.3 456.6,241.4 457.1,242.6 457.5,235.6 457.9,241.3 458.4,234.4 458.8,240.9 459.2,235.4 459.7,233.5 460.1,236.3 460.5,235.2 461.0,232.9 461.4,234.0 461.8,235.7 462.3,238.7 462.7,234.6 463.1,237.4 463.6,236.7 464.0,235.9 464.4,233.1 464.9,233.4 465.3,236.2 465.7,238.7 466.1,233.3 466.6,232.5 467.0,233.2 467.4,236.2 467.9,232.1 468.3,232.6 468.7,235.9 469.2,231.3 469.6,231.9 470.0,230.8 470.5,231.8 470.9,232.6 471.3,237.9 471.8,232.3 472.2,232.6 472.6,234.1 473.1,232.2 473.5,232.0 473.9,230.0 474.4,230.2 474.8,232.9 475.2,246.1 475.7,231.2 476.1,230.9 476.5,229.6 477.0,234.1 477.4,233.6 477.8,234.1 478.3,232.5 478.7,231.9 479.1,230.0 479.6,231.6 480.0,233.0 480.4,230.7 480.9,230.3 481.3,232.7 481.7,231.5 482.2,230.5 482.6,232.9 483.0,230.5 483.5,230.2 483.9,232.0 484.3,229.5 484.8,230.3 485.2,231.6 485.6,245.4 486.0,231.2 486.5,231.0 486.9,232.2 487.3,232.5 487.8,231.3 488.2,231.4 488.6,230.7 489.1,230.1 489.5,229.4 489.9,232.4 490.4,231.1 490.8,230.8 491.2,230.7 491.7,231.6 492.1,230.0 492.5,231.2 493.0,230.4 493.4,229.5 493.8,231.3 494.3,231.6 494.7,231.3 495.1,231.0 495.6,229.4 496.0,229.5 496.4,231.1 496.9,231.3 497.3,230.0 497.7,230.3 498.2,229.4 498.6,228.3 499.0,230.1 499.5,229.7 499.9,233.5 500.3,229.9 500.8,228.8 501.2,229.1 501.6,230.2 502.1,230.2 502.5,228.8 502.9,229.6 503.4,228.8 503.8,228.2 504.2,228.8 504.7,228.3 505.1,229.4 505.5,228.4 505.9,230.1 506.4,230.2 506.8,229.1 507.2,229.1 507.7,228.4 508.1,228.8 508.5,228.4 509.0,228.4 509.4,228.6 509.8,228.7 510.3,228.9 510.7,228.8 511.1,227.7 511.6,228.2 512.0,228.1 512.4,227.7 512.9,227.8 513.3,228.1 513.7,228.2 514.2,229.0 514.6,227.3 515.0,227.0 515.5,227.1 515.9,228.0 516.3,227.2 516.8,227.9 517.2,227.8 517.6,227.0 518.1,227.1 518.5,227.4 518.9,227.0 519.4,227.2 519.8,227.9 520.2,227.0 520.7,227.9 521.1,227.2 521.5,228.2 522.0,226.5 522.4,227.5 522.8,226.8 523.3,227.4 523.7,227.5 524.1,228.0 524.6,227.1 525.0,227.3 525.4,227.2 525.8,227.9 526.3,227.6 526.7,228.0 527.1,227.8 527.6,228.9 528.0,228.1 528.4,227.8 528.9,227.5 529.3,228.2 529.7,227.7 530.2,227.6 530.6,228.0 531.0,227.9 531.5,228.0 531.9,228.6 532.3,228.1 532.8,227.9 533.2,228.3 533.6,228.8 534.1,227.9" stroke="#e02a2a" stroke-width="0.85" fill="none" stroke-linejoin="round"/>
<rect x="307.3" y="217.7" width="237.10" height="175.80" fill="none" stroke="#5a5a5a" stroke-width="1"/>
<rect x="407.3" y="349.7" width="133.4" height="40.7" rx="1.5" fill="#fff" fill-opacity="0.8" stroke="#d4d4d4" stroke-width="0.8"/>
<line x1="409.9" y1="354.9" x2="424.0" y2="354.9" stroke="#1f7fc0" stroke-width="1.4" stroke-opacity="0.7"/>
<text x="428.8" y="357.40" class="lg">RT-DETR-l&#160;&#160;recall:0.778</text>
<line x1="409.9" y1="364.3" x2="424.0" y2="364.3" stroke="#ff8214" stroke-width="1.4" stroke-opacity="0.7"/>
<text x="428.8" y="366.80" class="lg">RT-DETR-x&#160;&#160;recall:0.776</text>
<line x1="409.9" y1="374.4" x2="424.0" y2="374.4" stroke="#2ca32c" stroke-width="1.4" stroke-opacity="0.7"/>
<text x="428.8" y="376.90" class="lg">RT-DETR-ResNet50&#160;&#160;recall:0.787</text>
<line x1="409.9" y1="384.0" x2="424.0" y2="384.0" stroke="#e02a2a" stroke-width="1.4" stroke-opacity="0.7"/>
<text x="428.8" y="386.50" class="lg">RT-DETR-ResNet101&#160;&#160;recall:0.776</text>
<text x="144.0" y="213.4" text-anchor="middle" class="cap">(a)</text>
<text x="426.4" y="213.8" text-anchor="middle" class="cap">(b)</text>
<text x="146.8" y="430.2" text-anchor="middle" class="cap">(c)</text>
<text x="429.5" y="431.0" text-anchor="middle" class="cap">(d)</text>
</svg>
</body></html>
